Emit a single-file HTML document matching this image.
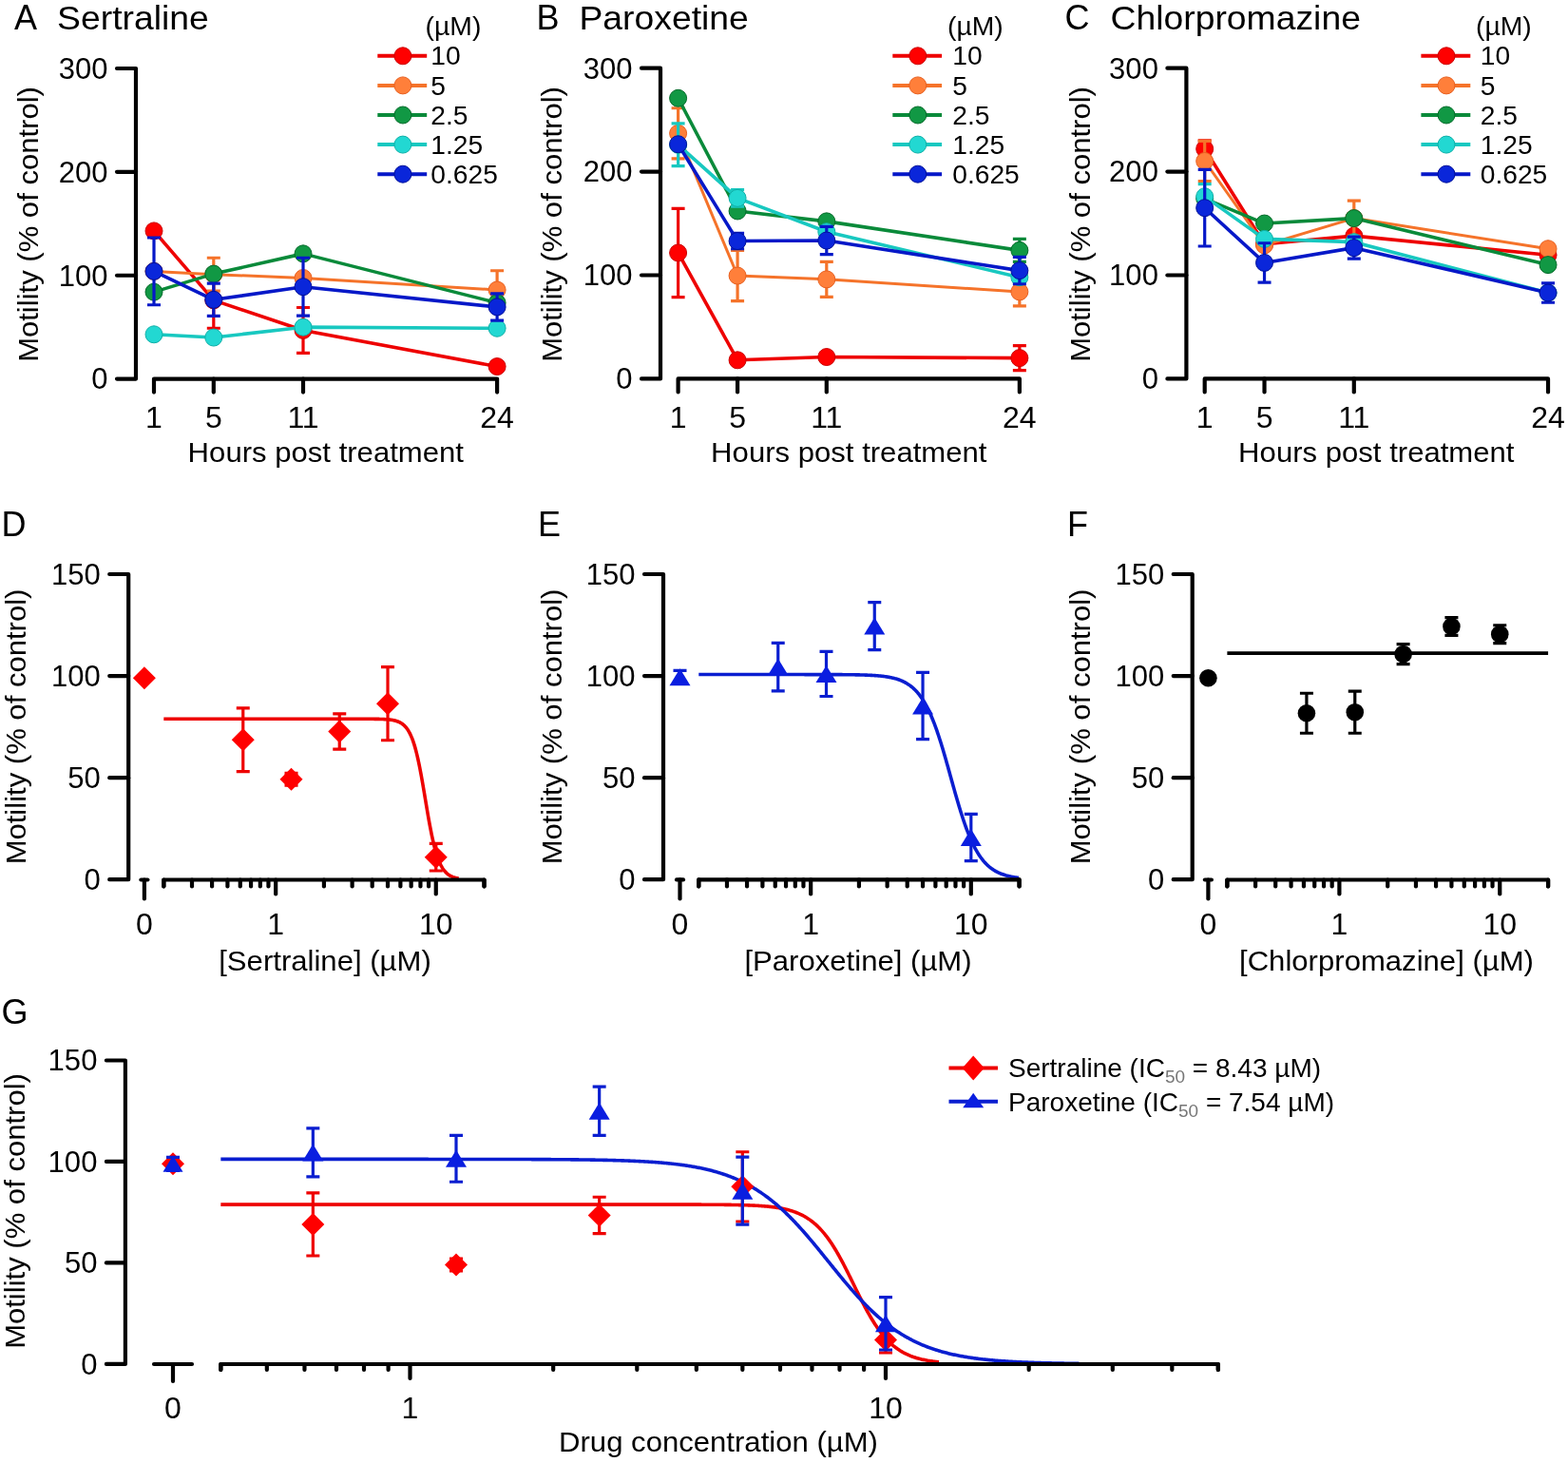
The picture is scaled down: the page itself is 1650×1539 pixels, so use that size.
<!DOCTYPE html>
<html><head><meta charset="utf-8"><title>Motility figure</title>
<style>html,body{margin:0;padding:0;background:#fff;}svg{display:block;}</style>
</head><body>
<svg width="1650" height="1539" viewBox="0 0 1650 1539" font-family="'Liberation Sans', Arial, Helvetica, sans-serif" fill="#000">
<rect width="1650" height="1539" fill="#fff"/>
<text x="15" y="31" font-size="36" text-anchor="start" >A</text>
<text transform="translate(60.1,31) scale(1.037,1)" font-size="36" text-anchor="start" >Sertraline</text>
<path d="M123,72H143V398.6H123" stroke="#000" stroke-width="4.2" fill="none" stroke-linecap="round" stroke-linejoin="round"/>
<line x1="123" y1="289.73" x2="143" y2="289.73" stroke="#000" stroke-width="4.2" stroke-linecap="round"/>
<line x1="123" y1="180.87" x2="143" y2="180.87" stroke="#000" stroke-width="4.2" stroke-linecap="round"/>
<text transform="translate(113.5,409.4) scale(0.97,1)" font-size="32" text-anchor="end" >0</text>
<text transform="translate(113.5,300.53) scale(0.97,1)" font-size="32" text-anchor="end" >100</text>
<text transform="translate(113.5,191.67) scale(0.97,1)" font-size="32" text-anchor="end" >200</text>
<text transform="translate(113.5,82.8) scale(0.97,1)" font-size="32" text-anchor="end" >300</text>
<path d="M162,412.6V398.6H523.1V412.6" stroke="#000" stroke-width="4.2" fill="none" stroke-linecap="round" stroke-linejoin="round"/>
<line x1="224.8" y1="398.6" x2="224.8" y2="412.6" stroke="#000" stroke-width="4.2" stroke-linecap="round"/>
<line x1="319" y1="398.6" x2="319" y2="412.6" stroke="#000" stroke-width="4.2" stroke-linecap="round"/>
<text x="162" y="450" font-size="32" text-anchor="middle" >1</text>
<text x="224.8" y="450" font-size="32" text-anchor="middle" >5</text>
<text x="319" y="450" font-size="32" text-anchor="middle" >11</text>
<text x="523.1" y="450" font-size="32" text-anchor="middle" >24</text>
<text transform="translate(342.8,486.3) scale(1.037,1)" font-size="30" text-anchor="middle" >Hours post treatment</text>
<text transform="translate(39.5,236) rotate(-90) scale(1.035,1)" font-size="30" text-anchor="middle">Motility (% of control)</text>
<text transform="translate(447.6,36.5) scale(1.03,1)" font-size="27.5" text-anchor="start" >(µM)</text>
<line x1="397.3" y1="58.8" x2="449.2" y2="58.8" stroke="#ee0000" stroke-width="4" stroke-linecap="butt"/>
<circle cx="423.9" cy="58.8" r="9" fill="#ff0000" stroke="#cc0000" stroke-width="1.0"/>
<text transform="translate(453.3,68.4) scale(1.045,1)" font-size="27" text-anchor="start" >10</text>
<line x1="397.3" y1="89.9" x2="449.2" y2="89.9" stroke="#f5732a" stroke-width="4" stroke-linecap="butt"/>
<circle cx="423.9" cy="89.9" r="9" fill="#ff7f3a" stroke="#e86020" stroke-width="1.0"/>
<text transform="translate(453.3,99.5) scale(1.045,1)" font-size="27" text-anchor="start" >5</text>
<line x1="397.3" y1="121" x2="449.2" y2="121" stroke="#0a8a3a" stroke-width="4" stroke-linecap="butt"/>
<circle cx="423.9" cy="121" r="9" fill="#119844" stroke="#056b2a" stroke-width="1.0"/>
<text transform="translate(453.3,130.6) scale(1.045,1)" font-size="27" text-anchor="start" >2.5</text>
<line x1="397.3" y1="152.1" x2="449.2" y2="152.1" stroke="#18c8c0" stroke-width="4" stroke-linecap="butt"/>
<circle cx="423.9" cy="152.1" r="9" fill="#22d8d2" stroke="#10b0a8" stroke-width="1.0"/>
<text transform="translate(453.3,161.7) scale(1.045,1)" font-size="27" text-anchor="start" >1.25</text>
<line x1="397.3" y1="183.2" x2="449.2" y2="183.2" stroke="#0618c8" stroke-width="4" stroke-linecap="butt"/>
<circle cx="423.9" cy="183.2" r="9" fill="#0a26da" stroke="#00109a" stroke-width="1.0"/>
<text transform="translate(453.3,192.8) scale(1.045,1)" font-size="27" text-anchor="start" >0.625</text>
<path d="M162,238.57V247.28M155,238.57H169M155,247.28H169" stroke="#ee0000" stroke-width="3.2" fill="none"/>
<path d="M224.8,286.47V345.26M217.8,286.47H231.8M217.8,345.26H231.8" stroke="#ee0000" stroke-width="3.2" fill="none"/>
<path d="M319,323.48V371.38M312,323.48H326M312,371.38H326" stroke="#ee0000" stroke-width="3.2" fill="none"/>
<path d="M523.1,381.18V389.89M516.1,381.18H530.1M516.1,389.89H530.1" stroke="#ee0000" stroke-width="3.2" fill="none"/>
<polyline points="162,242.92 224.8,315.86 319,347.43 523.1,385.54" fill="none" stroke="#ee0000" stroke-width="3.6" stroke-linejoin="round"/>
<circle cx="162" cy="242.92" r="9" fill="#ff0000" stroke="#cc0000" stroke-width="1.0"/>
<circle cx="224.8" cy="315.86" r="9" fill="#ff0000" stroke="#cc0000" stroke-width="1.0"/>
<circle cx="319" cy="347.43" r="9" fill="#ff0000" stroke="#cc0000" stroke-width="1.0"/>
<circle cx="523.1" cy="385.54" r="9" fill="#ff0000" stroke="#cc0000" stroke-width="1.0"/>
<path d="M224.8,271.23V306.06M217.8,271.23H231.8M217.8,306.06H231.8" stroke="#f5732a" stroke-width="3.2" fill="none"/>
<path d="M523.1,284.73V325.22M516.1,284.73H530.1M516.1,325.22H530.1" stroke="#f5732a" stroke-width="3.2" fill="none"/>
<polyline points="162,285.38 224.8,288.64 319,292.46 523.1,304.97" fill="none" stroke="#f5732a" stroke-width="3.0" stroke-linejoin="round"/>
<circle cx="162" cy="285.38" r="9" fill="#ff7f3a" stroke="#e86020" stroke-width="1.0"/>
<circle cx="224.8" cy="288.64" r="9" fill="#ff7f3a" stroke="#e86020" stroke-width="1.0"/>
<circle cx="319" cy="292.46" r="9" fill="#ff7f3a" stroke="#e86020" stroke-width="1.0"/>
<circle cx="523.1" cy="304.97" r="9" fill="#ff7f3a" stroke="#e86020" stroke-width="1.0"/>
<polyline points="162,307.15 224.8,288.1 319,266.87 523.1,318.58" fill="none" stroke="#0a8a3a" stroke-width="3.6" stroke-linejoin="round"/>
<circle cx="162" cy="307.15" r="9" fill="#119844" stroke="#056b2a" stroke-width="1.0"/>
<circle cx="224.8" cy="288.1" r="9" fill="#119844" stroke="#056b2a" stroke-width="1.0"/>
<circle cx="319" cy="266.87" r="9" fill="#119844" stroke="#056b2a" stroke-width="1.0"/>
<circle cx="523.1" cy="318.58" r="9" fill="#119844" stroke="#056b2a" stroke-width="1.0"/>
<polyline points="162,351.79 224.8,355.05 319,344.17 523.1,345.26" fill="none" stroke="#18c8c0" stroke-width="3.6" stroke-linejoin="round"/>
<circle cx="162" cy="351.79" r="9" fill="#22d8d2" stroke="#10b0a8" stroke-width="1.0"/>
<circle cx="224.8" cy="355.05" r="9" fill="#22d8d2" stroke="#10b0a8" stroke-width="1.0"/>
<circle cx="319" cy="344.17" r="9" fill="#22d8d2" stroke="#10b0a8" stroke-width="1.0"/>
<circle cx="523.1" cy="345.26" r="9" fill="#22d8d2" stroke="#10b0a8" stroke-width="1.0"/>
<path d="M162,250V320.76M155,250H169M155,320.76H169" stroke="#0618c8" stroke-width="3.2" fill="none"/>
<path d="M224.8,298.22V332.41M217.8,298.22H231.8M217.8,332.41H231.8" stroke="#0618c8" stroke-width="3.2" fill="none"/>
<path d="M319,271.23V332.19M312,271.23H326M312,332.19H326" stroke="#0618c8" stroke-width="3.2" fill="none"/>
<path d="M523.1,308.79V337.09M516.1,308.79H530.1M516.1,337.09H530.1" stroke="#0618c8" stroke-width="3.2" fill="none"/>
<polyline points="162,285.38 224.8,315.32 319,301.71 523.1,322.94" fill="none" stroke="#0618c8" stroke-width="3.6" stroke-linejoin="round"/>
<circle cx="162" cy="285.38" r="9" fill="#0a26da" stroke="#00109a" stroke-width="1.0"/>
<circle cx="224.8" cy="315.32" r="9" fill="#0a26da" stroke="#00109a" stroke-width="1.0"/>
<circle cx="319" cy="301.71" r="9" fill="#0a26da" stroke="#00109a" stroke-width="1.0"/>
<circle cx="523.1" cy="322.94" r="9" fill="#0a26da" stroke="#00109a" stroke-width="1.0"/>
<text x="564.5" y="31" font-size="36" text-anchor="start" >B</text>
<text transform="translate(609.4,31) scale(1.037,1)" font-size="36" text-anchor="start" >Paroxetine</text>
<path d="M675,71.7H695V398.4H675" stroke="#000" stroke-width="4.2" fill="none" stroke-linecap="round" stroke-linejoin="round"/>
<line x1="675" y1="289.5" x2="695" y2="289.5" stroke="#000" stroke-width="4.2" stroke-linecap="round"/>
<line x1="675" y1="180.6" x2="695" y2="180.6" stroke="#000" stroke-width="4.2" stroke-linecap="round"/>
<text transform="translate(665.5,409.2) scale(0.97,1)" font-size="32" text-anchor="end" >0</text>
<text transform="translate(665.5,300.3) scale(0.97,1)" font-size="32" text-anchor="end" >100</text>
<text transform="translate(665.5,191.4) scale(0.97,1)" font-size="32" text-anchor="end" >200</text>
<text transform="translate(665.5,82.5) scale(0.97,1)" font-size="32" text-anchor="end" >300</text>
<path d="M713.6,412.4V398.4H1072.86V412.4" stroke="#000" stroke-width="4.2" fill="none" stroke-linecap="round" stroke-linejoin="round"/>
<line x1="776.08" y1="398.4" x2="776.08" y2="412.4" stroke="#000" stroke-width="4.2" stroke-linecap="round"/>
<line x1="869.8" y1="398.4" x2="869.8" y2="412.4" stroke="#000" stroke-width="4.2" stroke-linecap="round"/>
<text x="713.6" y="450" font-size="32" text-anchor="middle" >1</text>
<text x="776.08" y="450" font-size="32" text-anchor="middle" >5</text>
<text x="869.8" y="450" font-size="32" text-anchor="middle" >11</text>
<text x="1072.86" y="450" font-size="32" text-anchor="middle" >24</text>
<text transform="translate(893.3,486.3) scale(1.037,1)" font-size="30" text-anchor="middle" >Hours post treatment</text>
<text transform="translate(591,236) rotate(-90) scale(1.035,1)" font-size="30" text-anchor="middle">Motility (% of control)</text>
<text transform="translate(997,36.5) scale(1.03,1)" font-size="27.5" text-anchor="start" >(µM)</text>
<line x1="939.3" y1="58.8" x2="991.1" y2="58.8" stroke="#ee0000" stroke-width="4" stroke-linecap="butt"/>
<circle cx="965.8" cy="58.8" r="9" fill="#ff0000" stroke="#cc0000" stroke-width="1.0"/>
<text transform="translate(1002.2,68.4) scale(1.045,1)" font-size="27" text-anchor="start" >10</text>
<line x1="939.3" y1="89.9" x2="991.1" y2="89.9" stroke="#f5732a" stroke-width="4" stroke-linecap="butt"/>
<circle cx="965.8" cy="89.9" r="9" fill="#ff7f3a" stroke="#e86020" stroke-width="1.0"/>
<text transform="translate(1002.2,99.5) scale(1.045,1)" font-size="27" text-anchor="start" >5</text>
<line x1="939.3" y1="121" x2="991.1" y2="121" stroke="#0a8a3a" stroke-width="4" stroke-linecap="butt"/>
<circle cx="965.8" cy="121" r="9" fill="#119844" stroke="#056b2a" stroke-width="1.0"/>
<text transform="translate(1002.2,130.6) scale(1.045,1)" font-size="27" text-anchor="start" >2.5</text>
<line x1="939.3" y1="152.1" x2="991.1" y2="152.1" stroke="#18c8c0" stroke-width="4" stroke-linecap="butt"/>
<circle cx="965.8" cy="152.1" r="9" fill="#22d8d2" stroke="#10b0a8" stroke-width="1.0"/>
<text transform="translate(1002.2,161.7) scale(1.045,1)" font-size="27" text-anchor="start" >1.25</text>
<line x1="939.3" y1="183.2" x2="991.1" y2="183.2" stroke="#0618c8" stroke-width="4" stroke-linecap="butt"/>
<circle cx="965.8" cy="183.2" r="9" fill="#0a26da" stroke="#00109a" stroke-width="1.0"/>
<text transform="translate(1002.2,192.8) scale(1.045,1)" font-size="27" text-anchor="start" >0.625</text>
<path d="M713.6,219.37V312.59M706.6,219.37H720.6M706.6,312.59H720.6" stroke="#ee0000" stroke-width="3.2" fill="none"/>
<path d="M1072.86,363.55V389.69M1065.86,363.55H1079.86M1065.86,389.69H1079.86" stroke="#ee0000" stroke-width="3.2" fill="none"/>
<polyline points="713.6,265.98 776.08,378.8 869.8,375.53 1072.86,376.62" fill="none" stroke="#ee0000" stroke-width="3.6" stroke-linejoin="round"/>
<circle cx="713.6" cy="265.98" r="9" fill="#ff0000" stroke="#cc0000" stroke-width="1.0"/>
<circle cx="776.08" cy="378.8" r="9" fill="#ff0000" stroke="#cc0000" stroke-width="1.0"/>
<circle cx="869.8" cy="375.53" r="9" fill="#ff0000" stroke="#cc0000" stroke-width="1.0"/>
<circle cx="1072.86" cy="376.62" r="9" fill="#ff0000" stroke="#cc0000" stroke-width="1.0"/>
<path d="M713.6,113.74V166.88M706.6,113.74H720.6M706.6,166.88H720.6" stroke="#f5732a" stroke-width="3.2" fill="none"/>
<path d="M776.08,263.36V316.72M769.08,263.36H783.08M769.08,316.72H783.08" stroke="#f5732a" stroke-width="3.2" fill="none"/>
<path d="M869.8,275.34V312.37M862.8,275.34H876.8M862.8,312.37H876.8" stroke="#f5732a" stroke-width="3.2" fill="none"/>
<path d="M1072.86,292V321.84M1065.86,292H1079.86M1065.86,321.84H1079.86" stroke="#f5732a" stroke-width="3.2" fill="none"/>
<polyline points="713.6,140.31 776.08,290.04 869.8,293.86 1072.86,306.92" fill="none" stroke="#f5732a" stroke-width="3.0" stroke-linejoin="round"/>
<circle cx="713.6" cy="140.31" r="9" fill="#ff7f3a" stroke="#e86020" stroke-width="1.0"/>
<circle cx="776.08" cy="290.04" r="9" fill="#ff7f3a" stroke="#e86020" stroke-width="1.0"/>
<circle cx="869.8" cy="293.86" r="9" fill="#ff7f3a" stroke="#e86020" stroke-width="1.0"/>
<circle cx="1072.86" cy="306.92" r="9" fill="#ff7f3a" stroke="#e86020" stroke-width="1.0"/>
<path d="M1072.86,251.38V275.34M1065.86,251.38H1079.86M1065.86,275.34H1079.86" stroke="#0a8a3a" stroke-width="3.2" fill="none"/>
<polyline points="713.6,103.28 776.08,221.98 869.8,232.87 1072.86,263.36" fill="none" stroke="#0a8a3a" stroke-width="3.6" stroke-linejoin="round"/>
<circle cx="713.6" cy="103.28" r="9" fill="#119844" stroke="#056b2a" stroke-width="1.0"/>
<circle cx="776.08" cy="221.98" r="9" fill="#119844" stroke="#056b2a" stroke-width="1.0"/>
<circle cx="869.8" cy="232.87" r="9" fill="#119844" stroke="#056b2a" stroke-width="1.0"/>
<circle cx="1072.86" cy="263.36" r="9" fill="#119844" stroke="#056b2a" stroke-width="1.0"/>
<path d="M713.6,129.96V174.61M706.6,129.96H720.6M706.6,174.61H720.6" stroke="#18c8c0" stroke-width="3.2" fill="none"/>
<path d="M776.08,199.66V217.08M769.08,199.66H783.08M769.08,217.08H783.08" stroke="#18c8c0" stroke-width="3.2" fill="none"/>
<polyline points="713.6,152.29 776.08,208.37 869.8,243.76 1072.86,291.68" fill="none" stroke="#18c8c0" stroke-width="3.6" stroke-linejoin="round"/>
<circle cx="713.6" cy="152.29" r="9" fill="#22d8d2" stroke="#10b0a8" stroke-width="1.0"/>
<circle cx="776.08" cy="208.37" r="9" fill="#22d8d2" stroke="#10b0a8" stroke-width="1.0"/>
<circle cx="869.8" cy="243.76" r="9" fill="#22d8d2" stroke="#10b0a8" stroke-width="1.0"/>
<circle cx="1072.86" cy="291.68" r="9" fill="#22d8d2" stroke="#10b0a8" stroke-width="1.0"/>
<path d="M776.08,245.4V261.73M769.08,245.4H783.08M769.08,261.73H783.08" stroke="#0618c8" stroke-width="3.2" fill="none"/>
<path d="M869.8,238.32V267.72M862.8,238.32H876.8M862.8,267.72H876.8" stroke="#0618c8" stroke-width="3.2" fill="none"/>
<path d="M1072.86,270.44V298.76M1065.86,270.44H1079.86M1065.86,298.76H1079.86" stroke="#0618c8" stroke-width="3.2" fill="none"/>
<polyline points="713.6,151.74 776.08,253.56 869.8,253.02 1072.86,284.6" fill="none" stroke="#0618c8" stroke-width="3.6" stroke-linejoin="round"/>
<circle cx="713.6" cy="151.74" r="9" fill="#0a26da" stroke="#00109a" stroke-width="1.0"/>
<circle cx="776.08" cy="253.56" r="9" fill="#0a26da" stroke="#00109a" stroke-width="1.0"/>
<circle cx="869.8" cy="253.02" r="9" fill="#0a26da" stroke="#00109a" stroke-width="1.0"/>
<circle cx="1072.86" cy="284.6" r="9" fill="#0a26da" stroke="#00109a" stroke-width="1.0"/>
<text x="1120.5" y="31" font-size="36" text-anchor="start" >C</text>
<text transform="translate(1168.5,31) scale(1.037,1)" font-size="36" text-anchor="start" >Chlorpromazine</text>
<path d="M1228.4,71.7H1248.4V398.4H1228.4" stroke="#000" stroke-width="4.2" fill="none" stroke-linecap="round" stroke-linejoin="round"/>
<line x1="1228.4" y1="289.5" x2="1248.4" y2="289.5" stroke="#000" stroke-width="4.2" stroke-linecap="round"/>
<line x1="1228.4" y1="180.6" x2="1248.4" y2="180.6" stroke="#000" stroke-width="4.2" stroke-linecap="round"/>
<text transform="translate(1218.9,409.2) scale(0.97,1)" font-size="32" text-anchor="end" >0</text>
<text transform="translate(1218.9,300.3) scale(0.97,1)" font-size="32" text-anchor="end" >100</text>
<text transform="translate(1218.9,191.4) scale(0.97,1)" font-size="32" text-anchor="end" >200</text>
<text transform="translate(1218.9,82.5) scale(0.97,1)" font-size="32" text-anchor="end" >300</text>
<path d="M1267.7,412.4V398.4H1629.03V412.4" stroke="#000" stroke-width="4.2" fill="none" stroke-linecap="round" stroke-linejoin="round"/>
<line x1="1330.54" y1="398.4" x2="1330.54" y2="412.4" stroke="#000" stroke-width="4.2" stroke-linecap="round"/>
<line x1="1424.8" y1="398.4" x2="1424.8" y2="412.4" stroke="#000" stroke-width="4.2" stroke-linecap="round"/>
<text x="1267.7" y="450" font-size="32" text-anchor="middle" >1</text>
<text x="1330.54" y="450" font-size="32" text-anchor="middle" >5</text>
<text x="1424.8" y="450" font-size="32" text-anchor="middle" >11</text>
<text x="1629.03" y="450" font-size="32" text-anchor="middle" >24</text>
<text transform="translate(1448.3,486.3) scale(1.037,1)" font-size="30" text-anchor="middle" >Hours post treatment</text>
<text transform="translate(1147,236) rotate(-90) scale(1.035,1)" font-size="30" text-anchor="middle">Motility (% of control)</text>
<text transform="translate(1553,36.5) scale(1.03,1)" font-size="27.5" text-anchor="start" >(µM)</text>
<line x1="1495.4" y1="58.8" x2="1547.3" y2="58.8" stroke="#ee0000" stroke-width="4" stroke-linecap="butt"/>
<circle cx="1522" cy="58.8" r="9" fill="#ff0000" stroke="#cc0000" stroke-width="1.0"/>
<text transform="translate(1557.7,68.4) scale(1.045,1)" font-size="27" text-anchor="start" >10</text>
<line x1="1495.4" y1="89.9" x2="1547.3" y2="89.9" stroke="#f5732a" stroke-width="4" stroke-linecap="butt"/>
<circle cx="1522" cy="89.9" r="9" fill="#ff7f3a" stroke="#e86020" stroke-width="1.0"/>
<text transform="translate(1557.7,99.5) scale(1.045,1)" font-size="27" text-anchor="start" >5</text>
<line x1="1495.4" y1="121" x2="1547.3" y2="121" stroke="#0a8a3a" stroke-width="4" stroke-linecap="butt"/>
<circle cx="1522" cy="121" r="9" fill="#119844" stroke="#056b2a" stroke-width="1.0"/>
<text transform="translate(1557.7,130.6) scale(1.045,1)" font-size="27" text-anchor="start" >2.5</text>
<line x1="1495.4" y1="152.1" x2="1547.3" y2="152.1" stroke="#18c8c0" stroke-width="4" stroke-linecap="butt"/>
<circle cx="1522" cy="152.1" r="9" fill="#22d8d2" stroke="#10b0a8" stroke-width="1.0"/>
<text transform="translate(1557.7,161.7) scale(1.045,1)" font-size="27" text-anchor="start" >1.25</text>
<line x1="1495.4" y1="183.2" x2="1547.3" y2="183.2" stroke="#0618c8" stroke-width="4" stroke-linecap="butt"/>
<circle cx="1522" cy="183.2" r="9" fill="#0a26da" stroke="#00109a" stroke-width="1.0"/>
<text transform="translate(1557.7,192.8) scale(1.045,1)" font-size="27" text-anchor="start" >0.625</text>
<path d="M1267.7,147.93V165.35M1260.7,147.93H1274.7M1260.7,165.35H1274.7" stroke="#ee0000" stroke-width="3.2" fill="none"/>
<polyline points="1267.7,156.64 1330.54,256.83 1424.8,248.12 1629.03,268.26" fill="none" stroke="#ee0000" stroke-width="3.6" stroke-linejoin="round"/>
<circle cx="1267.7" cy="156.64" r="9" fill="#ff0000" stroke="#cc0000" stroke-width="1.0"/>
<circle cx="1330.54" cy="256.83" r="9" fill="#ff0000" stroke="#cc0000" stroke-width="1.0"/>
<circle cx="1424.8" cy="248.12" r="9" fill="#ff0000" stroke="#cc0000" stroke-width="1.0"/>
<circle cx="1629.03" cy="268.26" r="9" fill="#ff0000" stroke="#cc0000" stroke-width="1.0"/>
<path d="M1267.7,148.47V190.51M1260.7,148.47H1274.7M1260.7,190.51H1274.7" stroke="#f5732a" stroke-width="3.2" fill="none"/>
<path d="M1424.8,211.09V248.12M1417.8,211.09H1431.8M1417.8,248.12H1431.8" stroke="#f5732a" stroke-width="3.2" fill="none"/>
<polyline points="1267.7,169.49 1330.54,257.92 1424.8,229.6 1629.03,261.73" fill="none" stroke="#f5732a" stroke-width="3.0" stroke-linejoin="round"/>
<circle cx="1267.7" cy="169.49" r="9" fill="#ff7f3a" stroke="#e86020" stroke-width="1.0"/>
<circle cx="1330.54" cy="257.92" r="9" fill="#ff7f3a" stroke="#e86020" stroke-width="1.0"/>
<circle cx="1424.8" cy="229.6" r="9" fill="#ff7f3a" stroke="#e86020" stroke-width="1.0"/>
<circle cx="1629.03" cy="261.73" r="9" fill="#ff7f3a" stroke="#e86020" stroke-width="1.0"/>
<polyline points="1267.7,208.91 1330.54,235.05 1424.8,229.6 1629.03,278.61" fill="none" stroke="#0a8a3a" stroke-width="3.6" stroke-linejoin="round"/>
<circle cx="1267.7" cy="208.91" r="9" fill="#119844" stroke="#056b2a" stroke-width="1.0"/>
<circle cx="1330.54" cy="235.05" r="9" fill="#119844" stroke="#056b2a" stroke-width="1.0"/>
<circle cx="1424.8" cy="229.6" r="9" fill="#119844" stroke="#056b2a" stroke-width="1.0"/>
<circle cx="1629.03" cy="278.61" r="9" fill="#119844" stroke="#056b2a" stroke-width="1.0"/>
<path d="M1267.7,193.67V219.8M1260.7,193.67H1274.7M1260.7,219.8H1274.7" stroke="#18c8c0" stroke-width="3.2" fill="none"/>
<polyline points="1267.7,206.74 1330.54,251.38 1424.8,254.65 1629.03,308.01" fill="none" stroke="#18c8c0" stroke-width="3.6" stroke-linejoin="round"/>
<circle cx="1267.7" cy="206.74" r="9" fill="#22d8d2" stroke="#10b0a8" stroke-width="1.0"/>
<circle cx="1330.54" cy="251.38" r="9" fill="#22d8d2" stroke="#10b0a8" stroke-width="1.0"/>
<circle cx="1424.8" cy="254.65" r="9" fill="#22d8d2" stroke="#10b0a8" stroke-width="1.0"/>
<circle cx="1629.03" cy="308.01" r="9" fill="#22d8d2" stroke="#10b0a8" stroke-width="1.0"/>
<path d="M1267.7,178.42V259.01M1260.7,178.42H1274.7M1260.7,259.01H1274.7" stroke="#0618c8" stroke-width="3.2" fill="none"/>
<path d="M1330.54,255.74V297.12M1323.54,255.74H1337.54M1323.54,297.12H1337.54" stroke="#0618c8" stroke-width="3.2" fill="none"/>
<path d="M1424.8,249.21V272.08M1417.8,249.21H1431.8M1417.8,272.08H1431.8" stroke="#0618c8" stroke-width="3.2" fill="none"/>
<path d="M1629.03,297.78V318.25M1622.03,297.78H1636.03M1622.03,318.25H1636.03" stroke="#0618c8" stroke-width="3.2" fill="none"/>
<polyline points="1267.7,218.71 1330.54,276.43 1424.8,260.64 1629.03,308.01" fill="none" stroke="#0618c8" stroke-width="3.6" stroke-linejoin="round"/>
<circle cx="1267.7" cy="218.71" r="9" fill="#0a26da" stroke="#00109a" stroke-width="1.0"/>
<circle cx="1330.54" cy="276.43" r="9" fill="#0a26da" stroke="#00109a" stroke-width="1.0"/>
<circle cx="1424.8" cy="260.64" r="9" fill="#0a26da" stroke="#00109a" stroke-width="1.0"/>
<circle cx="1629.03" cy="308.01" r="9" fill="#0a26da" stroke="#00109a" stroke-width="1.0"/>
<text x="1.5" y="563.5" font-size="36" text-anchor="start" >D</text>
<path d="M115.2,604H135.2V925.2H115.2" stroke="#000" stroke-width="4.2" fill="none" stroke-linecap="round" stroke-linejoin="round"/>
<line x1="115.2" y1="818.13" x2="135.2" y2="818.13" stroke="#000" stroke-width="4.2" stroke-linecap="round"/>
<line x1="115.2" y1="711.07" x2="135.2" y2="711.07" stroke="#000" stroke-width="4.2" stroke-linecap="round"/>
<text transform="translate(105.7,936) scale(0.97,1)" font-size="32" text-anchor="end" >0</text>
<text transform="translate(105.7,828.93) scale(0.97,1)" font-size="32" text-anchor="end" >50</text>
<text transform="translate(105.7,721.87) scale(0.97,1)" font-size="32" text-anchor="end" >100</text>
<text transform="translate(105.7,614.8) scale(0.97,1)" font-size="32" text-anchor="end" >150</text>
<polyline points="172.32,756.25 173.05,756.25 173.78,756.25 174.51,756.25 175.24,756.25 175.97,756.25 176.7,756.25 177.42,756.25 178.15,756.25 178.88,756.25 179.61,756.25 180.34,756.25 181.07,756.25 181.8,756.25 182.52,756.25 183.25,756.25 183.98,756.25 184.71,756.25 185.44,756.25 186.17,756.25 186.9,756.25 187.62,756.25 188.35,756.25 189.08,756.25 189.81,756.25 190.54,756.25 191.27,756.25 192,756.25 192.72,756.25 193.45,756.25 194.18,756.25 194.91,756.25 195.64,756.25 196.37,756.25 197.1,756.25 197.82,756.25 198.55,756.25 199.28,756.25 200.01,756.25 200.74,756.25 201.47,756.25 202.2,756.25 202.92,756.25 203.65,756.25 204.38,756.25 205.11,756.25 205.84,756.25 206.57,756.25 207.3,756.25 208.02,756.25 208.75,756.25 209.48,756.25 210.21,756.25 210.94,756.25 211.67,756.25 212.4,756.25 213.12,756.25 213.85,756.25 214.58,756.25 215.31,756.25 216.04,756.25 216.77,756.25 217.5,756.25 218.22,756.25 218.95,756.25 219.68,756.25 220.41,756.25 221.14,756.25 221.87,756.25 222.6,756.25 223.32,756.25 224.05,756.25 224.78,756.25 225.51,756.25 226.24,756.25 226.97,756.25 227.7,756.25 228.42,756.25 229.15,756.25 229.88,756.25 230.61,756.25 231.34,756.25 232.07,756.25 232.8,756.25 233.52,756.25 234.25,756.25 234.98,756.25 235.71,756.25 236.44,756.25 237.17,756.25 237.9,756.25 238.62,756.25 239.35,756.25 240.08,756.25 240.81,756.25 241.54,756.25 242.27,756.25 243,756.25 243.72,756.25 244.45,756.25 245.18,756.25 245.91,756.25 246.64,756.25 247.37,756.25 248.1,756.25 248.82,756.25 249.55,756.25 250.28,756.25 251.01,756.25 251.74,756.25 252.47,756.25 253.2,756.25 253.93,756.25 254.65,756.25 255.38,756.25 256.11,756.25 256.84,756.25 257.57,756.25 258.3,756.25 259.03,756.25 259.75,756.25 260.48,756.25 261.21,756.25 261.94,756.25 262.67,756.25 263.4,756.25 264.13,756.25 264.85,756.25 265.58,756.25 266.31,756.25 267.04,756.25 267.77,756.25 268.5,756.25 269.23,756.25 269.95,756.25 270.68,756.25 271.41,756.25 272.14,756.25 272.87,756.25 273.6,756.25 274.33,756.25 275.05,756.25 275.78,756.25 276.51,756.25 277.24,756.25 277.97,756.25 278.7,756.25 279.43,756.25 280.15,756.25 280.88,756.25 281.61,756.25 282.34,756.25 283.07,756.25 283.8,756.25 284.53,756.25 285.25,756.25 285.98,756.25 286.71,756.25 287.44,756.25 288.17,756.25 288.9,756.25 289.63,756.25 290.35,756.25 291.08,756.25 291.81,756.25 292.54,756.25 293.27,756.25 294,756.25 294.73,756.25 295.45,756.25 296.18,756.25 296.91,756.25 297.64,756.25 298.37,756.25 299.1,756.25 299.83,756.25 300.55,756.25 301.28,756.25 302.01,756.25 302.74,756.25 303.47,756.25 304.2,756.25 304.93,756.25 305.65,756.25 306.38,756.25 307.11,756.25 307.84,756.25 308.57,756.25 309.3,756.25 310.03,756.25 310.75,756.25 311.48,756.25 312.21,756.25 312.94,756.25 313.67,756.25 314.4,756.25 315.13,756.25 315.85,756.25 316.58,756.25 317.31,756.25 318.04,756.25 318.77,756.25 319.5,756.25 320.23,756.25 320.95,756.25 321.68,756.25 322.41,756.25 323.14,756.25 323.87,756.25 324.6,756.25 325.33,756.25 326.05,756.25 326.78,756.25 327.51,756.25 328.24,756.25 328.97,756.25 329.7,756.25 330.43,756.25 331.15,756.25 331.88,756.25 332.61,756.25 333.34,756.25 334.07,756.25 334.8,756.25 335.53,756.25 336.25,756.25 336.98,756.25 337.71,756.25 338.44,756.25 339.17,756.25 339.9,756.25 340.63,756.25 341.36,756.25 342.08,756.25 342.81,756.25 343.54,756.25 344.27,756.25 345,756.25 345.73,756.25 346.46,756.25 347.18,756.25 347.91,756.25 348.64,756.25 349.37,756.25 350.1,756.25 350.83,756.25 351.56,756.25 352.28,756.25 353.01,756.25 353.74,756.25 354.47,756.25 355.2,756.25 355.93,756.25 356.66,756.25 357.38,756.25 358.11,756.25 358.84,756.25 359.57,756.25 360.3,756.25 361.03,756.25 361.76,756.25 362.48,756.25 363.21,756.25 363.94,756.25 364.67,756.25 365.4,756.25 366.13,756.25 366.86,756.25 367.58,756.25 368.31,756.25 369.04,756.25 369.77,756.25 370.5,756.25 371.23,756.25 371.96,756.25 372.68,756.25 373.41,756.25 374.14,756.25 374.87,756.25 375.6,756.25 376.33,756.26 377.06,756.26 377.78,756.26 378.51,756.26 379.24,756.26 379.97,756.26 380.7,756.26 381.43,756.26 382.16,756.26 382.88,756.27 383.61,756.27 384.34,756.27 385.07,756.27 385.8,756.27 386.53,756.28 387.26,756.28 387.98,756.28 388.71,756.29 389.44,756.29 390.17,756.3 390.9,756.3 391.63,756.31 392.36,756.32 393.08,756.32 393.81,756.33 394.54,756.34 395.27,756.35 396,756.36 396.73,756.37 397.46,756.39 398.18,756.4 398.91,756.42 399.64,756.44 400.37,756.46 401.1,756.48 401.83,756.5 402.56,756.53 403.28,756.56 404.01,756.6 404.74,756.63 405.47,756.68 406.2,756.72 406.93,756.77 407.66,756.83 408.38,756.89 409.11,756.96 409.84,757.04 410.57,757.13 411.3,757.22 412.03,757.33 412.76,757.45 413.48,757.58 414.21,757.72 414.94,757.88 415.67,758.05 416.4,758.25 417.13,758.46 417.86,758.7 418.58,758.96 419.31,759.25 420.04,759.57 420.77,759.93 421.5,760.32 422.23,760.75 422.96,761.23 423.69,761.76 424.41,762.33 425.14,762.97 425.87,763.67 426.6,764.44 427.33,765.29 428.06,766.22 428.79,767.23 429.51,768.34 430.24,769.56 430.97,770.88 431.7,772.33 432.43,773.9 433.16,775.6 433.89,777.45 434.61,779.44 435.34,781.59 436.07,783.9 436.8,786.38 437.53,789.02 438.26,791.84 438.99,794.84 439.71,798.01 440.44,801.34 441.17,804.85 441.9,808.51 442.63,812.31 443.36,816.25 444.09,820.32 444.81,824.48 445.54,828.73 446.27,833.04 447,837.39 447.73,841.76 448.46,846.12 449.19,850.46 449.91,854.74 450.64,858.95 451.37,863.07 452.1,867.08 452.83,870.95 453.56,874.69 454.29,878.28 455.01,881.7 455.74,884.96 456.47,888.05 457.2,890.96 457.93,893.7 458.66,896.27 459.39,898.66 460.11,900.9 460.84,902.97 461.57,904.89 462.3,906.67 463.03,908.31 463.76,909.82 464.49,911.21 465.21,912.48 465.94,913.64 466.67,914.71 467.4,915.68 468.13,916.57 468.86,917.38 469.59,918.12 470.31,918.79 471.04,919.4 471.77,919.95 472.5,920.45 473.23,920.9 473.96,921.32 474.69,921.69 475.41,922.03 476.14,922.34 476.87,922.61 477.6,922.86 478.33,923.09 479.06,923.3 479.79,923.48 480.51,923.65 481.24,923.8 481.97,923.94 482.7,924.06" fill="none" stroke="#ee0000" stroke-width="3.6" stroke-linejoin="round"/>
<line x1="148.4" y1="925.5" x2="155.4" y2="925.5" stroke="#000" stroke-width="4.2" stroke-linecap="round"/>
<line x1="151.9" y1="925.5" x2="151.9" y2="945.5" stroke="#000" stroke-width="4.2" stroke-linecap="round"/>
<path d="M172.32,932.5V925.5H509.52V932.5" stroke="#000" stroke-width="4.2" fill="none" stroke-linecap="round" stroke-linejoin="round"/>
<line x1="172.32" y1="925.5" x2="172.32" y2="932.5" stroke="#000" stroke-width="4.2" stroke-linecap="round"/>
<line x1="202.01" y1="925.5" x2="202.01" y2="932.5" stroke="#000" stroke-width="4.2" stroke-linecap="round"/>
<line x1="223.08" y1="925.5" x2="223.08" y2="932.5" stroke="#000" stroke-width="4.2" stroke-linecap="round"/>
<line x1="239.42" y1="925.5" x2="239.42" y2="932.5" stroke="#000" stroke-width="4.2" stroke-linecap="round"/>
<line x1="252.77" y1="925.5" x2="252.77" y2="932.5" stroke="#000" stroke-width="4.2" stroke-linecap="round"/>
<line x1="264.05" y1="925.5" x2="264.05" y2="932.5" stroke="#000" stroke-width="4.2" stroke-linecap="round"/>
<line x1="273.83" y1="925.5" x2="273.83" y2="932.5" stroke="#000" stroke-width="4.2" stroke-linecap="round"/>
<line x1="282.46" y1="925.5" x2="282.46" y2="932.5" stroke="#000" stroke-width="4.2" stroke-linecap="round"/>
<line x1="290.17" y1="925.5" x2="290.17" y2="940.5" stroke="#000" stroke-width="4.2" stroke-linecap="round"/>
<line x1="340.92" y1="925.5" x2="340.92" y2="932.5" stroke="#000" stroke-width="4.2" stroke-linecap="round"/>
<line x1="370.61" y1="925.5" x2="370.61" y2="932.5" stroke="#000" stroke-width="4.2" stroke-linecap="round"/>
<line x1="391.68" y1="925.5" x2="391.68" y2="932.5" stroke="#000" stroke-width="4.2" stroke-linecap="round"/>
<line x1="408.02" y1="925.5" x2="408.02" y2="932.5" stroke="#000" stroke-width="4.2" stroke-linecap="round"/>
<line x1="421.37" y1="925.5" x2="421.37" y2="932.5" stroke="#000" stroke-width="4.2" stroke-linecap="round"/>
<line x1="432.65" y1="925.5" x2="432.65" y2="932.5" stroke="#000" stroke-width="4.2" stroke-linecap="round"/>
<line x1="442.43" y1="925.5" x2="442.43" y2="932.5" stroke="#000" stroke-width="4.2" stroke-linecap="round"/>
<line x1="451.06" y1="925.5" x2="451.06" y2="932.5" stroke="#000" stroke-width="4.2" stroke-linecap="round"/>
<line x1="458.77" y1="925.5" x2="458.77" y2="940.5" stroke="#000" stroke-width="4.2" stroke-linecap="round"/>
<line x1="509.52" y1="925.5" x2="509.52" y2="932.5" stroke="#000" stroke-width="4.2" stroke-linecap="round"/>
<text x="151.9" y="983" font-size="32" text-anchor="middle" >0</text>
<text x="290.17" y="983" font-size="32" text-anchor="middle" >1</text>
<text x="458.77" y="983" font-size="32" text-anchor="middle" >10</text>
<text transform="translate(342,1021) scale(1.037,1)" font-size="30" text-anchor="middle" >[Sertraline] (µM)</text>
<text transform="translate(27,764.5) rotate(-90) scale(1.035,1)" font-size="30" text-anchor="middle">Motility (% of control)</text>
<path d="M151.9,701.21L163.9,713.21L151.9,725.21L139.9,713.21Z" fill="#ff0000"/>
<path d="M255.76,744.9V811.71M248.76,744.9H262.76M248.76,811.71H262.76" stroke="#ee0000" stroke-width="3.2" fill="none"/>
<path d="M255.76,766.3L267.76,778.3L255.76,790.3L243.76,778.3Z" fill="#ff0000"/>
<path d="M306.51,813.42V826.27M299.51,813.42H313.51M299.51,826.27H313.51" stroke="#ee0000" stroke-width="3.2" fill="none"/>
<path d="M306.51,807.85L318.51,819.85L306.51,831.85L294.51,819.85Z" fill="#ff0000"/>
<path d="M357.26,750.9V788.15M350.26,750.9H364.26M350.26,788.15H364.26" stroke="#ee0000" stroke-width="3.2" fill="none"/>
<path d="M357.26,757.53L369.26,769.53L357.26,781.53L345.26,769.53Z" fill="#ff0000"/>
<path d="M408.02,701.64V778.73M401.02,701.64H415.02M401.02,778.73H415.02" stroke="#ee0000" stroke-width="3.2" fill="none"/>
<path d="M408.02,728.19L420.02,740.19L408.02,752.19L396.02,740.19Z" fill="#ff0000"/>
<path d="M458.77,887.3V915.99M451.77,887.3H465.77M451.77,915.99H465.77" stroke="#ee0000" stroke-width="3.2" fill="none"/>
<path d="M458.77,889.65L470.77,901.65L458.77,913.65L446.77,901.65Z" fill="#ff0000"/>
<text x="566" y="563.5" font-size="36" text-anchor="start" >E</text>
<path d="M678,604H698V925.2H678" stroke="#000" stroke-width="4.2" fill="none" stroke-linecap="round" stroke-linejoin="round"/>
<line x1="678" y1="818.13" x2="698" y2="818.13" stroke="#000" stroke-width="4.2" stroke-linecap="round"/>
<line x1="678" y1="711.07" x2="698" y2="711.07" stroke="#000" stroke-width="4.2" stroke-linecap="round"/>
<text transform="translate(668.5,936) scale(0.97,1)" font-size="32" text-anchor="end" >0</text>
<text transform="translate(668.5,828.93) scale(0.97,1)" font-size="32" text-anchor="end" >50</text>
<text transform="translate(668.5,721.87) scale(0.97,1)" font-size="32" text-anchor="end" >100</text>
<text transform="translate(668.5,614.8) scale(0.97,1)" font-size="32" text-anchor="end" >150</text>
<polyline points="735.28,709.57 736.01,709.57 736.74,709.57 737.47,709.57 738.19,709.57 738.92,709.57 739.65,709.57 740.38,709.57 741.11,709.57 741.84,709.57 742.57,709.57 743.3,709.57 744.02,709.57 744.75,709.57 745.48,709.57 746.21,709.57 746.94,709.57 747.67,709.57 748.4,709.57 749.13,709.57 749.85,709.57 750.58,709.57 751.31,709.57 752.04,709.57 752.77,709.57 753.5,709.57 754.23,709.57 754.96,709.57 755.69,709.57 756.41,709.57 757.14,709.57 757.87,709.57 758.6,709.57 759.33,709.57 760.06,709.57 760.79,709.57 761.52,709.57 762.24,709.57 762.97,709.57 763.7,709.57 764.43,709.57 765.16,709.57 765.89,709.57 766.62,709.57 767.35,709.57 768.07,709.57 768.8,709.57 769.53,709.57 770.26,709.57 770.99,709.57 771.72,709.57 772.45,709.57 773.18,709.57 773.91,709.57 774.63,709.57 775.36,709.57 776.09,709.57 776.82,709.57 777.55,709.57 778.28,709.57 779.01,709.57 779.74,709.57 780.46,709.57 781.19,709.57 781.92,709.57 782.65,709.57 783.38,709.57 784.11,709.57 784.84,709.57 785.57,709.57 786.29,709.57 787.02,709.57 787.75,709.57 788.48,709.57 789.21,709.57 789.94,709.57 790.67,709.57 791.4,709.57 792.13,709.57 792.85,709.57 793.58,709.57 794.31,709.57 795.04,709.57 795.77,709.57 796.5,709.57 797.23,709.57 797.96,709.57 798.68,709.57 799.41,709.57 800.14,709.57 800.87,709.57 801.6,709.57 802.33,709.57 803.06,709.57 803.79,709.57 804.51,709.57 805.24,709.57 805.97,709.57 806.7,709.57 807.43,709.57 808.16,709.57 808.89,709.57 809.62,709.57 810.35,709.57 811.07,709.57 811.8,709.57 812.53,709.57 813.26,709.57 813.99,709.57 814.72,709.57 815.45,709.57 816.18,709.57 816.9,709.57 817.63,709.57 818.36,709.57 819.09,709.57 819.82,709.57 820.55,709.57 821.28,709.57 822.01,709.57 822.73,709.57 823.46,709.57 824.19,709.57 824.92,709.57 825.65,709.57 826.38,709.57 827.11,709.57 827.84,709.57 828.57,709.57 829.29,709.57 830.02,709.57 830.75,709.57 831.48,709.57 832.21,709.57 832.94,709.57 833.67,709.57 834.4,709.57 835.12,709.57 835.85,709.57 836.58,709.57 837.31,709.57 838.04,709.57 838.77,709.57 839.5,709.57 840.23,709.57 840.95,709.57 841.68,709.57 842.41,709.57 843.14,709.57 843.87,709.57 844.6,709.57 845.33,709.57 846.06,709.57 846.79,709.58 847.51,709.58 848.24,709.58 848.97,709.58 849.7,709.58 850.43,709.58 851.16,709.58 851.89,709.58 852.62,709.58 853.34,709.58 854.07,709.58 854.8,709.58 855.53,709.58 856.26,709.58 856.99,709.58 857.72,709.58 858.45,709.58 859.17,709.58 859.9,709.59 860.63,709.59 861.36,709.59 862.09,709.59 862.82,709.59 863.55,709.59 864.28,709.59 865.01,709.59 865.73,709.59 866.46,709.6 867.19,709.6 867.92,709.6 868.65,709.6 869.38,709.6 870.11,709.6 870.84,709.6 871.56,709.61 872.29,709.61 873.02,709.61 873.75,709.61 874.48,709.61 875.21,709.62 875.94,709.62 876.67,709.62 877.39,709.63 878.12,709.63 878.85,709.63 879.58,709.63 880.31,709.64 881.04,709.64 881.77,709.64 882.5,709.65 883.23,709.65 883.95,709.66 884.68,709.66 885.41,709.67 886.14,709.67 886.87,709.68 887.6,709.68 888.33,709.69 889.06,709.69 889.78,709.7 890.51,709.71 891.24,709.71 891.97,709.72 892.7,709.73 893.43,709.74 894.16,709.74 894.89,709.75 895.61,709.76 896.34,709.77 897.07,709.78 897.8,709.79 898.53,709.8 899.26,709.82 899.99,709.83 900.72,709.84 901.45,709.85 902.17,709.87 902.9,709.88 903.63,709.9 904.36,709.92 905.09,709.93 905.82,709.95 906.55,709.97 907.28,709.99 908,710.01 908.73,710.03 909.46,710.06 910.19,710.08 910.92,710.11 911.65,710.13 912.38,710.16 913.11,710.19 913.83,710.22 914.56,710.25 915.29,710.29 916.02,710.33 916.75,710.36 917.48,710.4 918.21,710.44 918.94,710.49 919.67,710.53 920.39,710.58 921.12,710.63 921.85,710.68 922.58,710.74 923.31,710.8 924.04,710.86 924.77,710.92 925.5,710.99 926.22,711.06 926.95,711.14 927.68,711.21 928.41,711.29 929.14,711.38 929.87,711.47 930.6,711.56 931.33,711.66 932.05,711.77 932.78,711.88 933.51,711.99 934.24,712.11 934.97,712.23 935.7,712.37 936.43,712.5 937.16,712.65 937.89,712.8 938.61,712.96 939.34,713.13 940.07,713.3 940.8,713.48 941.53,713.68 942.26,713.88 942.99,714.09 943.72,714.31 944.44,714.54 945.17,714.78 945.9,715.04 946.63,715.3 947.36,715.58 948.09,715.87 948.82,716.18 949.55,716.5 950.27,716.83 951,717.18 951.73,717.55 952.46,717.93 953.19,718.33 953.92,718.75 954.65,719.19 955.38,719.65 956.11,720.13 956.83,720.63 957.56,721.15 958.29,721.7 959.02,722.27 959.75,722.86 960.48,723.48 961.21,724.13 961.94,724.81 962.66,725.51 963.39,726.25 964.12,727.01 964.85,727.81 965.58,728.64 966.31,729.51 967.04,730.41 967.77,731.34 968.49,732.32 969.22,733.33 969.95,734.38 970.68,735.47 971.41,736.6 972.14,737.78 972.87,738.99 973.6,740.25 974.33,741.56 975.05,742.91 975.78,744.31 976.51,745.75 977.24,747.25 977.97,748.79 978.7,750.38 979.43,752.01 980.16,753.7 980.88,755.44 981.61,757.22 982.34,759.06 983.07,760.94 983.8,762.87 984.53,764.85 985.26,766.88 985.99,768.95 986.71,771.08 987.44,773.24 988.17,775.45 988.9,777.7 989.63,779.99 990.36,782.33 991.09,784.7 991.82,787.1 992.54,789.54 993.27,792 994,794.5 994.73,797.02 995.46,799.57 996.19,802.14 996.92,804.72 997.65,807.32 998.38,809.93 999.1,812.55 999.83,815.18 1000.56,817.8 1001.29,820.43 1002.02,823.05 1002.75,825.67 1003.48,828.28 1004.21,830.87 1004.93,833.45 1005.66,836.01 1006.39,838.55 1007.12,841.07 1007.85,843.55 1008.58,846.01 1009.31,848.44 1010.04,850.83 1010.76,853.19 1011.49,855.51 1012.22,857.79 1012.95,860.03 1013.68,862.22 1014.41,864.37 1015.14,866.48 1015.87,868.54 1016.6,870.55 1017.32,872.52 1018.05,874.44 1018.78,876.3 1019.51,878.12 1020.24,879.89 1020.97,881.61 1021.7,883.28 1022.43,884.9 1023.15,886.48 1023.88,888 1024.61,889.48 1025.34,890.91 1026.07,892.29 1026.8,893.63 1027.53,894.92 1028.26,896.17 1028.98,897.37 1029.71,898.53 1030.44,899.65 1031.17,900.73 1031.9,901.77 1032.63,902.76 1033.36,903.73 1034.09,904.65 1034.82,905.54 1035.54,906.39 1036.27,907.21 1037,908 1037.73,908.76 1038.46,909.48 1039.19,910.18 1039.92,910.85 1040.65,911.49 1041.37,912.1 1042.1,912.69 1042.83,913.25 1043.56,913.79 1044.29,914.3 1045.02,914.8 1045.75,915.27 1046.48,915.72 1047.2,916.15 1047.93,916.57 1048.66,916.96 1049.39,917.34 1050.12,917.7 1050.85,918.04 1051.58,918.37 1052.31,918.69 1053.04,918.99 1053.76,919.28 1054.49,919.55 1055.22,919.81 1055.95,920.06 1056.68,920.3 1057.41,920.53 1058.14,920.75 1058.87,920.96 1059.59,921.15 1060.32,921.34 1061.05,921.52 1061.78,921.7 1062.51,921.86 1063.24,922.02 1063.97,922.17 1064.7,922.31 1065.42,922.44 1066.15,922.57 1066.88,922.7 1067.61,922.82 1068.34,922.93 1069.07,923.03 1069.8,923.14 1070.53,923.23 1071.26,923.33 1071.98,923.42" fill="none" stroke="#0a1ed0" stroke-width="3.6" stroke-linejoin="round"/>
<line x1="712" y1="925.4" x2="719" y2="925.4" stroke="#000" stroke-width="4.2" stroke-linecap="round"/>
<line x1="715.5" y1="925.4" x2="715.5" y2="945.4" stroke="#000" stroke-width="4.2" stroke-linecap="round"/>
<path d="M735.28,932.4V925.4H1072.58V932.4" stroke="#000" stroke-width="4.2" fill="none" stroke-linecap="round" stroke-linejoin="round"/>
<line x1="735.28" y1="925.4" x2="735.28" y2="932.4" stroke="#000" stroke-width="4.2" stroke-linecap="round"/>
<line x1="764.98" y1="925.4" x2="764.98" y2="932.4" stroke="#000" stroke-width="4.2" stroke-linecap="round"/>
<line x1="786.05" y1="925.4" x2="786.05" y2="932.4" stroke="#000" stroke-width="4.2" stroke-linecap="round"/>
<line x1="802.39" y1="925.4" x2="802.39" y2="932.4" stroke="#000" stroke-width="4.2" stroke-linecap="round"/>
<line x1="815.75" y1="925.4" x2="815.75" y2="932.4" stroke="#000" stroke-width="4.2" stroke-linecap="round"/>
<line x1="827.04" y1="925.4" x2="827.04" y2="932.4" stroke="#000" stroke-width="4.2" stroke-linecap="round"/>
<line x1="836.82" y1="925.4" x2="836.82" y2="932.4" stroke="#000" stroke-width="4.2" stroke-linecap="round"/>
<line x1="845.44" y1="925.4" x2="845.44" y2="932.4" stroke="#000" stroke-width="4.2" stroke-linecap="round"/>
<line x1="853.16" y1="925.4" x2="853.16" y2="940.4" stroke="#000" stroke-width="4.2" stroke-linecap="round"/>
<line x1="903.93" y1="925.4" x2="903.93" y2="932.4" stroke="#000" stroke-width="4.2" stroke-linecap="round"/>
<line x1="933.63" y1="925.4" x2="933.63" y2="932.4" stroke="#000" stroke-width="4.2" stroke-linecap="round"/>
<line x1="954.7" y1="925.4" x2="954.7" y2="932.4" stroke="#000" stroke-width="4.2" stroke-linecap="round"/>
<line x1="971.04" y1="925.4" x2="971.04" y2="932.4" stroke="#000" stroke-width="4.2" stroke-linecap="round"/>
<line x1="984.4" y1="925.4" x2="984.4" y2="932.4" stroke="#000" stroke-width="4.2" stroke-linecap="round"/>
<line x1="995.69" y1="925.4" x2="995.69" y2="932.4" stroke="#000" stroke-width="4.2" stroke-linecap="round"/>
<line x1="1005.47" y1="925.4" x2="1005.47" y2="932.4" stroke="#000" stroke-width="4.2" stroke-linecap="round"/>
<line x1="1014.09" y1="925.4" x2="1014.09" y2="932.4" stroke="#000" stroke-width="4.2" stroke-linecap="round"/>
<line x1="1021.81" y1="925.4" x2="1021.81" y2="940.4" stroke="#000" stroke-width="4.2" stroke-linecap="round"/>
<line x1="1072.58" y1="925.4" x2="1072.58" y2="932.4" stroke="#000" stroke-width="4.2" stroke-linecap="round"/>
<text x="715.5" y="983" font-size="32" text-anchor="middle" >0</text>
<text x="853.16" y="983" font-size="32" text-anchor="middle" >1</text>
<text x="1021.81" y="983" font-size="32" text-anchor="middle" >10</text>
<text transform="translate(903,1021) scale(1.037,1)" font-size="30" text-anchor="middle" >[Paroxetine] (µM)</text>
<text transform="translate(590.5,764.5) rotate(-90) scale(1.035,1)" font-size="30" text-anchor="middle">Motility (% of control)</text>
<path d="M715.5,705.29V719.42M708.5,705.29H722.5M708.5,719.42H722.5" stroke="#0a1ed0" stroke-width="3.2" fill="none"/>
<path d="M715.5,703.35L726.5,721.35L704.5,721.35Z" fill="#0a1ee0"/>
<path d="M818.74,676.38V726.91M811.74,676.38H825.74M811.74,726.91H825.74" stroke="#0a1ed0" stroke-width="3.2" fill="none"/>
<path d="M818.74,692.64L829.74,710.64L807.74,710.64Z" fill="#0a1ee0"/>
<path d="M869.5,685.37V732.48M862.5,685.37H876.5M862.5,732.48H876.5" stroke="#0a1ed0" stroke-width="3.2" fill="none"/>
<path d="M869.5,699.93L880.5,717.93L858.5,717.93Z" fill="#0a1ee0"/>
<path d="M920.27,633.55V683.66M913.27,633.55H927.27M913.27,683.66H927.27" stroke="#0a1ed0" stroke-width="3.2" fill="none"/>
<path d="M920.27,649.6L931.27,667.6L909.27,667.6Z" fill="#0a1ee0"/>
<path d="M971.04,707.43V777.66M964.04,707.43H978.04M964.04,777.66H978.04" stroke="#0a1ed0" stroke-width="3.2" fill="none"/>
<path d="M971.04,733.54L982.04,751.54L960.04,751.54Z" fill="#0a1ee0"/>
<path d="M1021.81,856.46V905.71M1014.81,856.46H1028.81M1014.81,905.71H1028.81" stroke="#0a1ed0" stroke-width="3.2" fill="none"/>
<path d="M1021.81,872.09L1032.81,890.09L1010.81,890.09Z" fill="#0a1ee0"/>
<text x="1123" y="563.5" font-size="36" text-anchor="start" >F</text>
<path d="M1234.7,604H1254.7V925.2H1234.7" stroke="#000" stroke-width="4.2" fill="none" stroke-linecap="round" stroke-linejoin="round"/>
<line x1="1234.7" y1="818.13" x2="1254.7" y2="818.13" stroke="#000" stroke-width="4.2" stroke-linecap="round"/>
<line x1="1234.7" y1="711.07" x2="1254.7" y2="711.07" stroke="#000" stroke-width="4.2" stroke-linecap="round"/>
<text transform="translate(1225.2,936) scale(0.97,1)" font-size="32" text-anchor="end" >0</text>
<text transform="translate(1225.2,828.93) scale(0.97,1)" font-size="32" text-anchor="end" >50</text>
<text transform="translate(1225.2,721.87) scale(0.97,1)" font-size="32" text-anchor="end" >100</text>
<text transform="translate(1225.2,614.8) scale(0.97,1)" font-size="32" text-anchor="end" >150</text>
<line x1="1291.38" y1="687.08" x2="1629.08" y2="687.08" stroke="#000" stroke-width="3.6" stroke-linecap="butt"/>
<line x1="1267.9" y1="925.5" x2="1274.9" y2="925.5" stroke="#000" stroke-width="4.2" stroke-linecap="round"/>
<line x1="1271.4" y1="925.5" x2="1271.4" y2="945.5" stroke="#000" stroke-width="4.2" stroke-linecap="round"/>
<path d="M1291.38,932.5V925.5H1629.08V932.5" stroke="#000" stroke-width="4.2" fill="none" stroke-linecap="round" stroke-linejoin="round"/>
<line x1="1291.38" y1="925.5" x2="1291.38" y2="932.5" stroke="#000" stroke-width="4.2" stroke-linecap="round"/>
<line x1="1321.11" y1="925.5" x2="1321.11" y2="932.5" stroke="#000" stroke-width="4.2" stroke-linecap="round"/>
<line x1="1342.21" y1="925.5" x2="1342.21" y2="932.5" stroke="#000" stroke-width="4.2" stroke-linecap="round"/>
<line x1="1358.57" y1="925.5" x2="1358.57" y2="932.5" stroke="#000" stroke-width="4.2" stroke-linecap="round"/>
<line x1="1371.94" y1="925.5" x2="1371.94" y2="932.5" stroke="#000" stroke-width="4.2" stroke-linecap="round"/>
<line x1="1383.24" y1="925.5" x2="1383.24" y2="932.5" stroke="#000" stroke-width="4.2" stroke-linecap="round"/>
<line x1="1393.04" y1="925.5" x2="1393.04" y2="932.5" stroke="#000" stroke-width="4.2" stroke-linecap="round"/>
<line x1="1401.67" y1="925.5" x2="1401.67" y2="932.5" stroke="#000" stroke-width="4.2" stroke-linecap="round"/>
<line x1="1409.4" y1="925.5" x2="1409.4" y2="940.5" stroke="#000" stroke-width="4.2" stroke-linecap="round"/>
<line x1="1460.23" y1="925.5" x2="1460.23" y2="932.5" stroke="#000" stroke-width="4.2" stroke-linecap="round"/>
<line x1="1489.96" y1="925.5" x2="1489.96" y2="932.5" stroke="#000" stroke-width="4.2" stroke-linecap="round"/>
<line x1="1511.06" y1="925.5" x2="1511.06" y2="932.5" stroke="#000" stroke-width="4.2" stroke-linecap="round"/>
<line x1="1527.42" y1="925.5" x2="1527.42" y2="932.5" stroke="#000" stroke-width="4.2" stroke-linecap="round"/>
<line x1="1540.79" y1="925.5" x2="1540.79" y2="932.5" stroke="#000" stroke-width="4.2" stroke-linecap="round"/>
<line x1="1552.09" y1="925.5" x2="1552.09" y2="932.5" stroke="#000" stroke-width="4.2" stroke-linecap="round"/>
<line x1="1561.89" y1="925.5" x2="1561.89" y2="932.5" stroke="#000" stroke-width="4.2" stroke-linecap="round"/>
<line x1="1570.52" y1="925.5" x2="1570.52" y2="932.5" stroke="#000" stroke-width="4.2" stroke-linecap="round"/>
<line x1="1578.25" y1="925.5" x2="1578.25" y2="940.5" stroke="#000" stroke-width="4.2" stroke-linecap="round"/>
<line x1="1629.08" y1="925.5" x2="1629.08" y2="932.5" stroke="#000" stroke-width="4.2" stroke-linecap="round"/>
<text x="1271.4" y="983" font-size="32" text-anchor="middle" >0</text>
<text x="1409.4" y="983" font-size="32" text-anchor="middle" >1</text>
<text x="1578.25" y="983" font-size="32" text-anchor="middle" >10</text>
<text transform="translate(1459,1021) scale(1.037,1)" font-size="30" text-anchor="middle" >[Chlorpromazine] (µM)</text>
<text transform="translate(1146.8,764.5) rotate(-90) scale(1.035,1)" font-size="30" text-anchor="middle">Motility (% of control)</text>
<circle cx="1271.4" cy="713.21" r="9.3" fill="#000"/>
<path d="M1374.93,729.27V771.24M1367.93,729.27H1381.93M1367.93,771.24H1381.93" stroke="#000" stroke-width="3.2" fill="none"/>
<circle cx="1374.93" cy="750.25" r="9.3" fill="#000"/>
<path d="M1425.76,727.13V771.24M1418.76,727.13H1432.76M1418.76,771.24H1432.76" stroke="#000" stroke-width="3.2" fill="none"/>
<circle cx="1425.76" cy="749.18" r="9.3" fill="#000"/>
<path d="M1476.59,677.66V698.65M1469.59,677.66H1483.59M1469.59,698.65H1483.59" stroke="#000" stroke-width="3.2" fill="none"/>
<circle cx="1476.59" cy="688.15" r="9.3" fill="#000"/>
<path d="M1527.42,649.61V668.45M1520.42,649.61H1534.42M1520.42,668.45H1534.42" stroke="#000" stroke-width="3.2" fill="none"/>
<circle cx="1527.42" cy="659.03" r="9.3" fill="#000"/>
<path d="M1578.25,657.75V676.59M1571.25,657.75H1585.25M1571.25,676.59H1585.25" stroke="#000" stroke-width="3.2" fill="none"/>
<circle cx="1578.25" cy="667.17" r="9.3" fill="#000"/>
<text x="1.5" y="1076.5" font-size="36" text-anchor="start" >G</text>
<path d="M111.9,1115.5H131.9V1434.9H111.9" stroke="#000" stroke-width="4.2" fill="none" stroke-linecap="round" stroke-linejoin="round"/>
<line x1="111.9" y1="1328.43" x2="131.9" y2="1328.43" stroke="#000" stroke-width="4.2" stroke-linecap="round"/>
<line x1="111.9" y1="1221.97" x2="131.9" y2="1221.97" stroke="#000" stroke-width="4.2" stroke-linecap="round"/>
<text transform="translate(102.4,1445.7) scale(0.97,1)" font-size="32" text-anchor="end" >0</text>
<text transform="translate(102.4,1339.23) scale(0.97,1)" font-size="32" text-anchor="end" >50</text>
<text transform="translate(102.4,1232.77) scale(0.97,1)" font-size="32" text-anchor="end" >100</text>
<text transform="translate(102.4,1126.3) scale(0.97,1)" font-size="32" text-anchor="end" >150</text>
<polyline points="232.33,1267.11 233.42,1267.11 234.5,1267.11 235.58,1267.11 236.67,1267.11 237.75,1267.11 238.84,1267.11 239.92,1267.11 241,1267.11 242.09,1267.11 243.17,1267.11 244.26,1267.11 245.34,1267.11 246.42,1267.11 247.51,1267.11 248.59,1267.11 249.68,1267.11 250.76,1267.11 251.85,1267.11 252.93,1267.11 254.01,1267.11 255.1,1267.11 256.18,1267.11 257.27,1267.11 258.35,1267.11 259.43,1267.11 260.52,1267.11 261.6,1267.11 262.69,1267.11 263.77,1267.11 264.85,1267.11 265.94,1267.11 267.02,1267.11 268.11,1267.11 269.19,1267.11 270.28,1267.11 271.36,1267.11 272.44,1267.11 273.53,1267.11 274.61,1267.11 275.7,1267.11 276.78,1267.11 277.86,1267.11 278.95,1267.11 280.03,1267.11 281.12,1267.11 282.2,1267.11 283.28,1267.11 284.37,1267.11 285.45,1267.11 286.54,1267.11 287.62,1267.11 288.7,1267.11 289.79,1267.11 290.87,1267.11 291.96,1267.11 293.04,1267.11 294.13,1267.11 295.21,1267.11 296.29,1267.11 297.38,1267.11 298.46,1267.11 299.55,1267.11 300.63,1267.11 301.71,1267.11 302.8,1267.11 303.88,1267.11 304.97,1267.11 306.05,1267.11 307.13,1267.11 308.22,1267.11 309.3,1267.11 310.39,1267.11 311.47,1267.11 312.56,1267.11 313.64,1267.11 314.72,1267.11 315.81,1267.11 316.89,1267.11 317.98,1267.11 319.06,1267.11 320.14,1267.11 321.23,1267.11 322.31,1267.11 323.4,1267.11 324.48,1267.11 325.56,1267.11 326.65,1267.11 327.73,1267.11 328.82,1267.11 329.9,1267.11 330.99,1267.11 332.07,1267.11 333.15,1267.11 334.24,1267.11 335.32,1267.11 336.41,1267.11 337.49,1267.11 338.57,1267.11 339.66,1267.11 340.74,1267.11 341.83,1267.11 342.91,1267.11 343.99,1267.11 345.08,1267.11 346.16,1267.11 347.25,1267.11 348.33,1267.11 349.42,1267.11 350.5,1267.11 351.58,1267.11 352.67,1267.11 353.75,1267.11 354.84,1267.11 355.92,1267.11 357,1267.11 358.09,1267.11 359.17,1267.11 360.26,1267.11 361.34,1267.11 362.42,1267.11 363.51,1267.11 364.59,1267.11 365.68,1267.11 366.76,1267.11 367.85,1267.11 368.93,1267.11 370.01,1267.11 371.1,1267.11 372.18,1267.11 373.27,1267.11 374.35,1267.11 375.43,1267.11 376.52,1267.11 377.6,1267.11 378.69,1267.11 379.77,1267.11 380.85,1267.11 381.94,1267.11 383.02,1267.11 384.11,1267.11 385.19,1267.11 386.28,1267.11 387.36,1267.11 388.44,1267.11 389.53,1267.11 390.61,1267.11 391.7,1267.11 392.78,1267.11 393.86,1267.11 394.95,1267.11 396.03,1267.11 397.12,1267.11 398.2,1267.11 399.28,1267.11 400.37,1267.11 401.45,1267.11 402.54,1267.11 403.62,1267.11 404.71,1267.11 405.79,1267.11 406.87,1267.11 407.96,1267.11 409.04,1267.11 410.13,1267.11 411.21,1267.11 412.29,1267.11 413.38,1267.11 414.46,1267.11 415.55,1267.11 416.63,1267.11 417.71,1267.11 418.8,1267.11 419.88,1267.11 420.97,1267.11 422.05,1267.11 423.14,1267.11 424.22,1267.11 425.3,1267.11 426.39,1267.11 427.47,1267.11 428.56,1267.11 429.64,1267.11 430.72,1267.11 431.81,1267.11 432.89,1267.11 433.98,1267.11 435.06,1267.11 436.14,1267.11 437.23,1267.11 438.31,1267.11 439.4,1267.11 440.48,1267.11 441.57,1267.11 442.65,1267.11 443.73,1267.11 444.82,1267.11 445.9,1267.11 446.99,1267.11 448.07,1267.11 449.15,1267.11 450.24,1267.11 451.32,1267.11 452.41,1267.11 453.49,1267.11 454.57,1267.11 455.66,1267.11 456.74,1267.11 457.83,1267.11 458.91,1267.11 459.99,1267.11 461.08,1267.11 462.16,1267.11 463.25,1267.11 464.33,1267.11 465.42,1267.11 466.5,1267.11 467.58,1267.11 468.67,1267.11 469.75,1267.11 470.84,1267.11 471.92,1267.11 473,1267.11 474.09,1267.11 475.17,1267.11 476.26,1267.11 477.34,1267.11 478.42,1267.11 479.51,1267.11 480.59,1267.11 481.68,1267.11 482.76,1267.11 483.85,1267.11 484.93,1267.11 486.01,1267.11 487.1,1267.11 488.18,1267.11 489.27,1267.11 490.35,1267.11 491.43,1267.11 492.52,1267.11 493.6,1267.11 494.69,1267.11 495.77,1267.11 496.85,1267.11 497.94,1267.11 499.02,1267.11 500.11,1267.11 501.19,1267.11 502.28,1267.11 503.36,1267.11 504.44,1267.11 505.53,1267.11 506.61,1267.11 507.7,1267.11 508.78,1267.11 509.86,1267.11 510.95,1267.11 512.03,1267.11 513.12,1267.11 514.2,1267.11 515.28,1267.11 516.37,1267.11 517.45,1267.11 518.54,1267.11 519.62,1267.11 520.71,1267.11 521.79,1267.11 522.87,1267.11 523.96,1267.11 525.04,1267.11 526.13,1267.11 527.21,1267.11 528.29,1267.11 529.38,1267.11 530.46,1267.11 531.55,1267.11 532.63,1267.11 533.71,1267.11 534.8,1267.11 535.88,1267.11 536.97,1267.11 538.05,1267.11 539.14,1267.11 540.22,1267.11 541.3,1267.11 542.39,1267.11 543.47,1267.11 544.56,1267.11 545.64,1267.11 546.72,1267.11 547.81,1267.11 548.89,1267.11 549.98,1267.11 551.06,1267.11 552.14,1267.11 553.23,1267.11 554.31,1267.11 555.4,1267.11 556.48,1267.11 557.57,1267.11 558.65,1267.11 559.73,1267.11 560.82,1267.11 561.9,1267.11 562.99,1267.11 564.07,1267.11 565.15,1267.11 566.24,1267.11 567.32,1267.11 568.41,1267.11 569.49,1267.11 570.57,1267.11 571.66,1267.11 572.74,1267.11 573.83,1267.11 574.91,1267.11 576,1267.11 577.08,1267.11 578.16,1267.11 579.25,1267.11 580.33,1267.11 581.42,1267.11 582.5,1267.11 583.58,1267.11 584.67,1267.11 585.75,1267.11 586.84,1267.11 587.92,1267.11 589,1267.11 590.09,1267.11 591.17,1267.11 592.26,1267.11 593.34,1267.11 594.43,1267.11 595.51,1267.11 596.59,1267.11 597.68,1267.11 598.76,1267.11 599.85,1267.11 600.93,1267.11 602.01,1267.11 603.1,1267.11 604.18,1267.11 605.27,1267.11 606.35,1267.11 607.43,1267.11 608.52,1267.11 609.6,1267.11 610.69,1267.11 611.77,1267.11 612.86,1267.11 613.94,1267.11 615.02,1267.11 616.11,1267.11 617.19,1267.11 618.28,1267.11 619.36,1267.11 620.44,1267.11 621.53,1267.11 622.61,1267.11 623.7,1267.11 624.78,1267.11 625.86,1267.11 626.95,1267.11 628.03,1267.11 629.12,1267.11 630.2,1267.11 631.28,1267.11 632.37,1267.11 633.45,1267.11 634.54,1267.11 635.62,1267.11 636.71,1267.11 637.79,1267.11 638.87,1267.11 639.96,1267.11 641.04,1267.11 642.13,1267.11 643.21,1267.11 644.29,1267.11 645.38,1267.11 646.46,1267.11 647.55,1267.11 648.63,1267.11 649.71,1267.11 650.8,1267.11 651.88,1267.11 652.97,1267.11 654.05,1267.11 655.14,1267.11 656.22,1267.11 657.3,1267.11 658.39,1267.11 659.47,1267.11 660.56,1267.11 661.64,1267.11 662.72,1267.11 663.81,1267.11 664.89,1267.11 665.98,1267.11 667.06,1267.11 668.14,1267.11 669.23,1267.11 670.31,1267.11 671.4,1267.11 672.48,1267.11 673.57,1267.11 674.65,1267.11 675.73,1267.11 676.82,1267.11 677.9,1267.11 678.99,1267.11 680.07,1267.11 681.15,1267.11 682.24,1267.11 683.32,1267.11 684.41,1267.11 685.49,1267.11 686.57,1267.11 687.66,1267.11 688.74,1267.11 689.83,1267.12 690.91,1267.12 692,1267.12 693.08,1267.12 694.16,1267.12 695.25,1267.12 696.33,1267.12 697.42,1267.12 698.5,1267.12 699.58,1267.12 700.67,1267.12 701.75,1267.12 702.84,1267.12 703.92,1267.12 705,1267.12 706.09,1267.12 707.17,1267.12 708.26,1267.12 709.34,1267.13 710.43,1267.13 711.51,1267.13 712.59,1267.13 713.68,1267.13 714.76,1267.13 715.85,1267.13 716.93,1267.13 718.01,1267.13 719.1,1267.14 720.18,1267.14 721.27,1267.14 722.35,1267.14 723.43,1267.14 724.52,1267.14 725.6,1267.15 726.69,1267.15 727.77,1267.15 728.86,1267.15 729.94,1267.15 731.02,1267.16 732.11,1267.16 733.19,1267.16 734.28,1267.17 735.36,1267.17 736.44,1267.17 737.53,1267.17 738.61,1267.18 739.7,1267.18 740.78,1267.19 741.86,1267.19 742.95,1267.19 744.03,1267.2 745.12,1267.2 746.2,1267.21 747.29,1267.22 748.37,1267.22 749.45,1267.23 750.54,1267.23 751.62,1267.24 752.71,1267.25 753.79,1267.26 754.87,1267.26 755.96,1267.27 757.04,1267.28 758.13,1267.29 759.21,1267.3 760.29,1267.31 761.38,1267.32 762.46,1267.33 763.55,1267.34 764.63,1267.36 765.72,1267.37 766.8,1267.38 767.88,1267.4 768.97,1267.42 770.05,1267.43 771.14,1267.45 772.22,1267.47 773.3,1267.49 774.39,1267.51 775.47,1267.53 776.56,1267.55 777.64,1267.58 778.72,1267.6 779.81,1267.63 780.89,1267.66 781.98,1267.69 783.06,1267.72 784.15,1267.75 785.23,1267.79 786.31,1267.82 787.4,1267.86 788.48,1267.9 789.57,1267.94 790.65,1267.99 791.73,1268.04 792.82,1268.09 793.9,1268.14 794.99,1268.19 796.07,1268.25 797.15,1268.32 798.24,1268.38 799.32,1268.45 800.41,1268.52 801.49,1268.6 802.57,1268.68 803.66,1268.76 804.74,1268.85 805.83,1268.94 806.91,1269.04 808,1269.15 809.08,1269.25 810.16,1269.37 811.25,1269.49 812.33,1269.62 813.42,1269.75 814.5,1269.89 815.58,1270.04 816.67,1270.2 817.75,1270.36 818.84,1270.54 819.92,1270.72 821,1270.91 822.09,1271.11 823.17,1271.32 824.26,1271.55 825.34,1271.78 826.43,1272.03 827.51,1272.28 828.59,1272.56 829.68,1272.84 830.76,1273.14 831.85,1273.46 832.93,1273.79 834.01,1274.14 835.1,1274.5 836.18,1274.88 837.27,1275.28 838.35,1275.71 839.43,1276.15 840.52,1276.61 841.6,1277.09 842.69,1277.6 843.77,1278.14 844.86,1278.69 845.94,1279.28 847.02,1279.89 848.11,1280.52 849.19,1281.19 850.28,1281.89 851.36,1282.62 852.44,1283.38 853.53,1284.17 854.61,1285 855.7,1285.86 856.78,1286.76 857.86,1287.7 858.95,1288.67 860.03,1289.68 861.12,1290.74 862.2,1291.83 863.29,1292.97 864.37,1294.14 865.45,1295.36 866.54,1296.63 867.62,1297.94 868.71,1299.29 869.79,1300.69 870.87,1302.13 871.96,1303.62 873.04,1305.15 874.13,1306.73 875.21,1308.35 876.29,1310.01 877.38,1311.72 878.46,1313.48 879.55,1315.27 880.63,1317.11 881.72,1318.98 882.8,1320.9 883.88,1322.85 884.97,1324.83 886.05,1326.85 887.14,1328.9 888.22,1330.98 889.3,1333.08 890.39,1335.21 891.47,1337.36 892.56,1339.53 893.64,1341.71 894.72,1343.91 895.81,1346.11 896.89,1348.32 897.98,1350.54 899.06,1352.76 900.15,1354.97 901.23,1357.18 902.31,1359.38 903.4,1361.57 904.48,1363.75 905.57,1365.91 906.65,1368.04 907.73,1370.16 908.82,1372.25 909.9,1374.31 910.99,1376.34 912.07,1378.34 913.15,1380.3 914.24,1382.23 915.32,1384.12 916.41,1385.98 917.49,1387.79 918.58,1389.56 919.66,1391.29 920.74,1392.97 921.83,1394.61 922.91,1396.21 924,1397.76 925.08,1399.27 926.16,1400.73 927.25,1402.14 928.33,1403.51 929.42,1404.84 930.5,1406.12 931.58,1407.36 932.67,1408.56 933.75,1409.71 934.84,1410.82 935.92,1411.89 937.01,1412.92 938.09,1413.91 939.17,1414.86 940.26,1415.78 941.34,1416.65 942.43,1417.5 943.51,1418.3 944.59,1419.08 945.68,1419.82 946.76,1420.53 947.85,1421.21 948.93,1421.86 950.01,1422.48 951.1,1423.08 952.18,1423.64 953.27,1424.19 954.35,1424.7 955.44,1425.2 956.52,1425.67 957.6,1426.12 958.69,1426.55 959.77,1426.96 960.86,1427.35 961.94,1427.72 963.02,1428.08 964.11,1428.42 965.19,1428.74 966.28,1429.04 967.36,1429.34 968.44,1429.61 969.53,1429.88 970.61,1430.13 971.7,1430.37 972.78,1430.59 973.86,1430.81 974.95,1431.02 976.03,1431.21 977.12,1431.4 978.2,1431.57 979.29,1431.74 980.37,1431.9 981.45,1432.05 982.54,1432.2 983.62,1432.34 984.71,1432.47 985.79,1432.59 986.87,1432.71 987.96,1432.82" fill="none" stroke="#ee0000" stroke-width="3.6" stroke-linejoin="round"/>
<polyline points="232.33,1219.41 233.42,1219.41 234.5,1219.41 235.58,1219.41 236.67,1219.41 237.75,1219.41 238.84,1219.41 239.92,1219.41 241,1219.41 242.09,1219.41 243.17,1219.41 244.26,1219.41 245.34,1219.41 246.42,1219.41 247.51,1219.41 248.59,1219.41 249.68,1219.41 250.76,1219.41 251.85,1219.41 252.93,1219.41 254.01,1219.41 255.1,1219.41 256.18,1219.41 257.27,1219.41 258.35,1219.41 259.43,1219.41 260.52,1219.41 261.6,1219.41 262.69,1219.41 263.77,1219.41 264.85,1219.41 265.94,1219.41 267.02,1219.41 268.11,1219.41 269.19,1219.41 270.28,1219.41 271.36,1219.41 272.44,1219.41 273.53,1219.41 274.61,1219.41 275.7,1219.41 276.78,1219.41 277.86,1219.41 278.95,1219.41 280.03,1219.41 281.12,1219.41 282.2,1219.41 283.28,1219.41 284.37,1219.41 285.45,1219.41 286.54,1219.41 287.62,1219.41 288.7,1219.41 289.79,1219.41 290.87,1219.41 291.96,1219.41 293.04,1219.41 294.13,1219.41 295.21,1219.41 296.29,1219.41 297.38,1219.41 298.46,1219.41 299.55,1219.41 300.63,1219.41 301.71,1219.41 302.8,1219.41 303.88,1219.41 304.97,1219.41 306.05,1219.41 307.13,1219.41 308.22,1219.41 309.3,1219.41 310.39,1219.41 311.47,1219.41 312.56,1219.41 313.64,1219.41 314.72,1219.41 315.81,1219.41 316.89,1219.41 317.98,1219.41 319.06,1219.41 320.14,1219.41 321.23,1219.41 322.31,1219.41 323.4,1219.41 324.48,1219.41 325.56,1219.41 326.65,1219.41 327.73,1219.41 328.82,1219.41 329.9,1219.41 330.99,1219.41 332.07,1219.41 333.15,1219.41 334.24,1219.41 335.32,1219.41 336.41,1219.41 337.49,1219.41 338.57,1219.41 339.66,1219.41 340.74,1219.41 341.83,1219.41 342.91,1219.41 343.99,1219.41 345.08,1219.41 346.16,1219.41 347.25,1219.41 348.33,1219.41 349.42,1219.41 350.5,1219.41 351.58,1219.41 352.67,1219.41 353.75,1219.41 354.84,1219.41 355.92,1219.41 357,1219.41 358.09,1219.41 359.17,1219.41 360.26,1219.41 361.34,1219.41 362.42,1219.41 363.51,1219.41 364.59,1219.41 365.68,1219.41 366.76,1219.41 367.85,1219.41 368.93,1219.41 370.01,1219.41 371.1,1219.41 372.18,1219.41 373.27,1219.41 374.35,1219.41 375.43,1219.41 376.52,1219.41 377.6,1219.41 378.69,1219.41 379.77,1219.41 380.85,1219.41 381.94,1219.41 383.02,1219.41 384.11,1219.41 385.19,1219.41 386.28,1219.41 387.36,1219.41 388.44,1219.41 389.53,1219.41 390.61,1219.41 391.7,1219.41 392.78,1219.42 393.86,1219.42 394.95,1219.42 396.03,1219.42 397.12,1219.42 398.2,1219.42 399.28,1219.42 400.37,1219.42 401.45,1219.42 402.54,1219.42 403.62,1219.42 404.71,1219.42 405.79,1219.42 406.87,1219.42 407.96,1219.42 409.04,1219.42 410.13,1219.42 411.21,1219.42 412.29,1219.42 413.38,1219.42 414.46,1219.42 415.55,1219.42 416.63,1219.42 417.71,1219.42 418.8,1219.42 419.88,1219.42 420.97,1219.42 422.05,1219.42 423.14,1219.42 424.22,1219.42 425.3,1219.42 426.39,1219.42 427.47,1219.42 428.56,1219.42 429.64,1219.42 430.72,1219.42 431.81,1219.42 432.89,1219.42 433.98,1219.42 435.06,1219.42 436.14,1219.42 437.23,1219.42 438.31,1219.42 439.4,1219.42 440.48,1219.42 441.57,1219.42 442.65,1219.42 443.73,1219.42 444.82,1219.42 445.9,1219.42 446.99,1219.42 448.07,1219.42 449.15,1219.42 450.24,1219.42 451.32,1219.43 452.41,1219.43 453.49,1219.43 454.57,1219.43 455.66,1219.43 456.74,1219.43 457.83,1219.43 458.91,1219.43 459.99,1219.43 461.08,1219.43 462.16,1219.43 463.25,1219.43 464.33,1219.43 465.42,1219.43 466.5,1219.43 467.58,1219.43 468.67,1219.43 469.75,1219.43 470.84,1219.43 471.92,1219.43 473,1219.43 474.09,1219.43 475.17,1219.43 476.26,1219.44 477.34,1219.44 478.42,1219.44 479.51,1219.44 480.59,1219.44 481.68,1219.44 482.76,1219.44 483.85,1219.44 484.93,1219.44 486.01,1219.44 487.1,1219.44 488.18,1219.44 489.27,1219.44 490.35,1219.44 491.43,1219.45 492.52,1219.45 493.6,1219.45 494.69,1219.45 495.77,1219.45 496.85,1219.45 497.94,1219.45 499.02,1219.45 500.11,1219.45 501.19,1219.45 502.28,1219.46 503.36,1219.46 504.44,1219.46 505.53,1219.46 506.61,1219.46 507.7,1219.46 508.78,1219.46 509.86,1219.46 510.95,1219.47 512.03,1219.47 513.12,1219.47 514.2,1219.47 515.28,1219.47 516.37,1219.47 517.45,1219.47 518.54,1219.48 519.62,1219.48 520.71,1219.48 521.79,1219.48 522.87,1219.48 523.96,1219.48 525.04,1219.49 526.13,1219.49 527.21,1219.49 528.29,1219.49 529.38,1219.49 530.46,1219.5 531.55,1219.5 532.63,1219.5 533.71,1219.5 534.8,1219.5 535.88,1219.51 536.97,1219.51 538.05,1219.51 539.14,1219.51 540.22,1219.52 541.3,1219.52 542.39,1219.52 543.47,1219.52 544.56,1219.53 545.64,1219.53 546.72,1219.53 547.81,1219.54 548.89,1219.54 549.98,1219.54 551.06,1219.55 552.14,1219.55 553.23,1219.55 554.31,1219.56 555.4,1219.56 556.48,1219.56 557.57,1219.57 558.65,1219.57 559.73,1219.58 560.82,1219.58 561.9,1219.58 562.99,1219.59 564.07,1219.59 565.15,1219.6 566.24,1219.6 567.32,1219.61 568.41,1219.61 569.49,1219.62 570.57,1219.62 571.66,1219.63 572.74,1219.63 573.83,1219.64 574.91,1219.64 576,1219.65 577.08,1219.66 578.16,1219.66 579.25,1219.67 580.33,1219.68 581.42,1219.68 582.5,1219.69 583.58,1219.7 584.67,1219.7 585.75,1219.71 586.84,1219.72 587.92,1219.73 589,1219.73 590.09,1219.74 591.17,1219.75 592.26,1219.76 593.34,1219.77 594.43,1219.78 595.51,1219.79 596.59,1219.79 597.68,1219.8 598.76,1219.81 599.85,1219.82 600.93,1219.83 602.01,1219.85 603.1,1219.86 604.18,1219.87 605.27,1219.88 606.35,1219.89 607.43,1219.9 608.52,1219.92 609.6,1219.93 610.69,1219.94 611.77,1219.95 612.86,1219.97 613.94,1219.98 615.02,1220 616.11,1220.01 617.19,1220.03 618.28,1220.04 619.36,1220.06 620.44,1220.07 621.53,1220.09 622.61,1220.11 623.7,1220.13 624.78,1220.14 625.86,1220.16 626.95,1220.18 628.03,1220.2 629.12,1220.22 630.2,1220.24 631.28,1220.26 632.37,1220.28 633.45,1220.3 634.54,1220.33 635.62,1220.35 636.71,1220.37 637.79,1220.4 638.87,1220.42 639.96,1220.45 641.04,1220.47 642.13,1220.5 643.21,1220.53 644.29,1220.56 645.38,1220.58 646.46,1220.61 647.55,1220.64 648.63,1220.68 649.71,1220.71 650.8,1220.74 651.88,1220.77 652.97,1220.81 654.05,1220.84 655.14,1220.88 656.22,1220.91 657.3,1220.95 658.39,1220.99 659.47,1221.03 660.56,1221.07 661.64,1221.11 662.72,1221.16 663.81,1221.2 664.89,1221.24 665.98,1221.29 667.06,1221.34 668.14,1221.38 669.23,1221.43 670.31,1221.48 671.4,1221.54 672.48,1221.59 673.57,1221.64 674.65,1221.7 675.73,1221.76 676.82,1221.82 677.9,1221.88 678.99,1221.94 680.07,1222 681.15,1222.06 682.24,1222.13 683.32,1222.2 684.41,1222.27 685.49,1222.34 686.57,1222.41 687.66,1222.49 688.74,1222.56 689.83,1222.64 690.91,1222.72 692,1222.8 693.08,1222.89 694.16,1222.97 695.25,1223.06 696.33,1223.15 697.42,1223.25 698.5,1223.34 699.58,1223.44 700.67,1223.54 701.75,1223.64 702.84,1223.75 703.92,1223.85 705,1223.96 706.09,1224.08 707.17,1224.19 708.26,1224.31 709.34,1224.43 710.43,1224.55 711.51,1224.68 712.59,1224.81 713.68,1224.94 714.76,1225.08 715.85,1225.22 716.93,1225.36 718.01,1225.51 719.1,1225.65 720.18,1225.81 721.27,1225.96 722.35,1226.12 723.43,1226.29 724.52,1226.46 725.6,1226.63 726.69,1226.8 727.77,1226.98 728.86,1227.17 729.94,1227.36 731.02,1227.55 732.11,1227.75 733.19,1227.95 734.28,1228.16 735.36,1228.37 736.44,1228.59 737.53,1228.81 738.61,1229.03 739.7,1229.27 740.78,1229.5 741.86,1229.75 742.95,1229.99 744.03,1230.25 745.12,1230.51 746.2,1230.77 747.29,1231.04 748.37,1231.32 749.45,1231.61 750.54,1231.9 751.62,1232.19 752.71,1232.49 753.79,1232.8 754.87,1233.12 755.96,1233.45 757.04,1233.78 758.13,1234.11 759.21,1234.46 760.29,1234.81 761.38,1235.17 762.46,1235.54 763.55,1235.92 764.63,1236.3 765.72,1236.69 766.8,1237.09 767.88,1237.5 768.97,1237.92 770.05,1238.35 771.14,1238.78 772.22,1239.23 773.3,1239.68 774.39,1240.14 775.47,1240.61 776.56,1241.1 777.64,1241.59 778.72,1242.09 779.81,1242.6 780.89,1243.12 781.98,1243.65 783.06,1244.19 784.15,1244.74 785.23,1245.31 786.31,1245.88 787.4,1246.47 788.48,1247.06 789.57,1247.67 790.65,1248.29 791.73,1248.91 792.82,1249.56 793.9,1250.21 794.99,1250.87 796.07,1251.55 797.15,1252.24 798.24,1252.94 799.32,1253.65 800.41,1254.37 801.49,1255.11 802.57,1255.86 803.66,1256.62 804.74,1257.39 805.83,1258.18 806.91,1258.98 808,1259.79 809.08,1260.62 810.16,1261.45 811.25,1262.3 812.33,1263.17 813.42,1264.04 814.5,1264.93 815.58,1265.83 816.67,1266.75 817.75,1267.68 818.84,1268.62 819.92,1269.57 821,1270.54 822.09,1271.51 823.17,1272.51 824.26,1273.51 825.34,1274.53 826.43,1275.56 827.51,1276.6 828.59,1277.65 829.68,1278.72 830.76,1279.79 831.85,1280.88 832.93,1281.99 834.01,1283.1 835.1,1284.22 836.18,1285.36 837.27,1286.51 838.35,1287.66 839.43,1288.83 840.52,1290.01 841.6,1291.2 842.69,1292.4 843.77,1293.61 844.86,1294.82 845.94,1296.05 847.02,1297.29 848.11,1298.53 849.19,1299.78 850.28,1301.04 851.36,1302.31 852.44,1303.59 853.53,1304.87 854.61,1306.16 855.7,1307.46 856.78,1308.76 857.86,1310.06 858.95,1311.38 860.03,1312.69 861.12,1314.01 862.2,1315.34 863.29,1316.67 864.37,1318 865.45,1319.34 866.54,1320.67 867.62,1322.01 868.71,1323.35 869.79,1324.7 870.87,1326.04 871.96,1327.38 873.04,1328.73 874.13,1330.07 875.21,1331.41 876.29,1332.75 877.38,1334.09 878.46,1335.43 879.55,1336.76 880.63,1338.09 881.72,1339.42 882.8,1340.75 883.88,1342.07 884.97,1343.38 886.05,1344.69 887.14,1346 888.22,1347.3 889.3,1348.59 890.39,1349.88 891.47,1351.16 892.56,1352.43 893.64,1353.7 894.72,1354.95 895.81,1356.2 896.89,1357.44 897.98,1358.68 899.06,1359.9 900.15,1361.12 901.23,1362.32 902.31,1363.52 903.4,1364.7 904.48,1365.88 905.57,1367.04 906.65,1368.2 907.73,1369.34 908.82,1370.47 909.9,1371.59 910.99,1372.7 912.07,1373.8 913.15,1374.88 914.24,1375.96 915.32,1377.02 916.41,1378.07 917.49,1379.11 918.58,1380.13 919.66,1381.14 920.74,1382.14 921.83,1383.13 922.91,1384.11 924,1385.07 925.08,1386.02 926.16,1386.95 927.25,1387.88 928.33,1388.79 929.42,1389.68 930.5,1390.57 931.58,1391.44 932.67,1392.3 933.75,1393.14 934.84,1393.98 935.92,1394.8 937.01,1395.61 938.09,1396.4 939.17,1397.18 940.26,1397.95 941.34,1398.71 942.43,1399.45 943.51,1400.19 944.59,1400.91 945.68,1401.61 946.76,1402.31 947.85,1402.99 948.93,1403.67 950.01,1404.33 951.1,1404.97 952.18,1405.61 953.27,1406.24 954.35,1406.85 955.44,1407.45 956.52,1408.05 957.6,1408.63 958.69,1409.2 959.77,1409.76 960.86,1410.3 961.94,1410.84 963.02,1411.37 964.11,1411.89 965.19,1412.4 966.28,1412.89 967.36,1413.38 968.44,1413.86 969.53,1414.33 970.61,1414.79 971.7,1415.24 972.78,1415.68 973.86,1416.11 974.95,1416.53 976.03,1416.95 977.12,1417.35 978.2,1417.75 979.29,1418.14 980.37,1418.52 981.45,1418.9 982.54,1419.26 983.62,1419.62 984.71,1419.97 985.79,1420.31 986.87,1420.65 987.96,1420.98 989.04,1421.3 990.13,1421.61 991.21,1421.92 992.29,1422.22 993.38,1422.52 994.46,1422.8 995.55,1423.08 996.63,1423.36 997.72,1423.63 998.8,1423.89 999.88,1424.15 1000.97,1424.4 1002.05,1424.65 1003.14,1424.89 1004.22,1425.12 1005.3,1425.35 1006.39,1425.58 1007.47,1425.8 1008.56,1426.01 1009.64,1426.22 1010.72,1426.43 1011.81,1426.63 1012.89,1426.83 1013.98,1427.02 1015.06,1427.21 1016.15,1427.39 1017.23,1427.57 1018.31,1427.74 1019.4,1427.91 1020.48,1428.08 1021.57,1428.24 1022.65,1428.4 1023.73,1428.56 1024.82,1428.71 1025.9,1428.86 1026.99,1429 1028.07,1429.14 1029.15,1429.28 1030.24,1429.42 1031.32,1429.55 1032.41,1429.68 1033.49,1429.8 1034.58,1429.92 1035.66,1430.04 1036.74,1430.16 1037.83,1430.27 1038.91,1430.39 1040,1430.5 1041.08,1430.6 1042.16,1430.71 1043.25,1430.81 1044.33,1430.91 1045.42,1431 1046.5,1431.1 1047.58,1431.19 1048.67,1431.28 1049.75,1431.37 1050.84,1431.45 1051.92,1431.54 1053.01,1431.62 1054.09,1431.7 1055.17,1431.77 1056.26,1431.85 1057.34,1431.92 1058.43,1432 1059.51,1432.07 1060.59,1432.14 1061.68,1432.2 1062.76,1432.27 1063.85,1432.33 1064.93,1432.4 1066.01,1432.46 1067.1,1432.52 1068.18,1432.57 1069.27,1432.63 1070.35,1432.69 1071.44,1432.74 1072.52,1432.79 1073.6,1432.84 1074.69,1432.89 1075.77,1432.94 1076.86,1432.99 1077.94,1433.04 1079.02,1433.08 1080.11,1433.13 1081.19,1433.17 1082.28,1433.21 1083.36,1433.25 1084.44,1433.29 1085.53,1433.33 1086.61,1433.37 1087.7,1433.41 1088.78,1433.45 1089.87,1433.48 1090.95,1433.52 1092.03,1433.55 1093.12,1433.58 1094.2,1433.62 1095.29,1433.65 1096.37,1433.68 1097.45,1433.71 1098.54,1433.74 1099.62,1433.77 1100.71,1433.79 1101.79,1433.82 1102.87,1433.85 1103.96,1433.87 1105.04,1433.9 1106.13,1433.92 1107.21,1433.95 1108.3,1433.97 1109.38,1433.99 1110.46,1434.01 1111.55,1434.04 1112.63,1434.06 1113.72,1434.08 1114.8,1434.1 1115.88,1434.12 1116.97,1434.14 1118.05,1434.16 1119.14,1434.17 1120.22,1434.19 1121.3,1434.21 1122.39,1434.23 1123.47,1434.24 1124.56,1434.26 1125.64,1434.27 1126.73,1434.29 1127.81,1434.31 1128.89,1434.32 1129.98,1434.33 1131.06,1434.35 1132.15,1434.36 1133.23,1434.37 1134.31,1434.39 1135.4,1434.4" fill="none" stroke="#0a1ed0" stroke-width="3.6" stroke-linejoin="round"/>
<line x1="162" y1="1435" x2="202" y2="1435" stroke="#000" stroke-width="4.2" stroke-linecap="round"/>
<line x1="182" y1="1435" x2="182" y2="1453" stroke="#000" stroke-width="4.2" stroke-linecap="round"/>
<path d="M232.33,1441V1435H1281.83V1441" stroke="#000" stroke-width="4.2" fill="none" stroke-linecap="round" stroke-linejoin="round"/>
<line x1="232.33" y1="1435" x2="232.33" y2="1441" stroke="#000" stroke-width="4.2" stroke-linecap="round"/>
<line x1="280.83" y1="1435" x2="280.83" y2="1441" stroke="#000" stroke-width="4.2" stroke-linecap="round"/>
<line x1="320.46" y1="1435" x2="320.46" y2="1441" stroke="#000" stroke-width="4.2" stroke-linecap="round"/>
<line x1="353.97" y1="1435" x2="353.97" y2="1441" stroke="#000" stroke-width="4.2" stroke-linecap="round"/>
<line x1="383" y1="1435" x2="383" y2="1441" stroke="#000" stroke-width="4.2" stroke-linecap="round"/>
<line x1="408.6" y1="1435" x2="408.6" y2="1441" stroke="#000" stroke-width="4.2" stroke-linecap="round"/>
<line x1="431.5" y1="1435" x2="431.5" y2="1450" stroke="#000" stroke-width="4.2" stroke-linecap="round"/>
<line x1="582.17" y1="1435" x2="582.17" y2="1441" stroke="#000" stroke-width="4.2" stroke-linecap="round"/>
<line x1="670.3" y1="1435" x2="670.3" y2="1441" stroke="#000" stroke-width="4.2" stroke-linecap="round"/>
<line x1="732.83" y1="1435" x2="732.83" y2="1441" stroke="#000" stroke-width="4.2" stroke-linecap="round"/>
<line x1="781.33" y1="1435" x2="781.33" y2="1441" stroke="#000" stroke-width="4.2" stroke-linecap="round"/>
<line x1="820.96" y1="1435" x2="820.96" y2="1441" stroke="#000" stroke-width="4.2" stroke-linecap="round"/>
<line x1="854.47" y1="1435" x2="854.47" y2="1441" stroke="#000" stroke-width="4.2" stroke-linecap="round"/>
<line x1="883.5" y1="1435" x2="883.5" y2="1441" stroke="#000" stroke-width="4.2" stroke-linecap="round"/>
<line x1="909.1" y1="1435" x2="909.1" y2="1441" stroke="#000" stroke-width="4.2" stroke-linecap="round"/>
<line x1="932" y1="1435" x2="932" y2="1450" stroke="#000" stroke-width="4.2" stroke-linecap="round"/>
<line x1="1082.67" y1="1435" x2="1082.67" y2="1441" stroke="#000" stroke-width="4.2" stroke-linecap="round"/>
<line x1="1170.8" y1="1435" x2="1170.8" y2="1441" stroke="#000" stroke-width="4.2" stroke-linecap="round"/>
<line x1="1233.33" y1="1435" x2="1233.33" y2="1441" stroke="#000" stroke-width="4.2" stroke-linecap="round"/>
<line x1="1281.83" y1="1435" x2="1281.83" y2="1441" stroke="#000" stroke-width="4.2" stroke-linecap="round"/>
<text x="182" y="1492" font-size="32" text-anchor="middle" >0</text>
<text x="431.5" y="1492" font-size="32" text-anchor="middle" >1</text>
<text x="932" y="1492" font-size="32" text-anchor="middle" >10</text>
<text transform="translate(756,1527) scale(1.037,1)" font-size="30" text-anchor="middle" >Drug concentration (µM)</text>
<text transform="translate(25.5,1274) rotate(-90) scale(1.035,1)" font-size="30" text-anchor="middle">Motility (% of control)</text>
<path d="M182,1212.31L194,1224.31L182,1236.31L170,1224.31Z" fill="#ff0000"/>
<path d="M329.34,1254.97V1320.98M322.34,1254.97H336.34M322.34,1320.98H336.34" stroke="#ee0000" stroke-width="3.2" fill="none"/>
<path d="M329.34,1275.98L341.34,1287.98L329.34,1299.98L317.34,1287.98Z" fill="#ff0000"/>
<path d="M480,1324.17V1336.95M473,1324.17H487M473,1336.95H487" stroke="#ee0000" stroke-width="3.2" fill="none"/>
<path d="M480,1318.56L492,1330.56L480,1342.56L468,1330.56Z" fill="#ff0000"/>
<path d="M630.67,1259.23V1297.56M623.67,1259.23H637.67M623.67,1297.56H637.67" stroke="#ee0000" stroke-width="3.2" fill="none"/>
<path d="M630.67,1266.39L642.67,1278.39L630.67,1290.39L618.67,1278.39Z" fill="#ff0000"/>
<path d="M781.33,1211.75V1284.99M774.33,1211.75H788.33M774.33,1284.99H788.33" stroke="#ee0000" stroke-width="3.2" fill="none"/>
<path d="M781.33,1236.37L793.33,1248.37L781.33,1260.37L769.33,1248.37Z" fill="#ff0000"/>
<path d="M932,1396.15V1422.98M925,1396.15H939M925,1422.98H939" stroke="#ee0000" stroke-width="3.2" fill="none"/>
<path d="M932,1397.56L944,1409.56L932,1421.56L920,1409.56Z" fill="#ff0000"/>
<path d="M182,1217.28V1231.34M175,1217.28H189M175,1231.34H189" stroke="#0a1ed0" stroke-width="3.2" fill="none"/>
<path d="M182,1215.81L192.5,1232.81L171.5,1232.81Z" fill="#0a1ee0"/>
<path d="M329.34,1186.83V1237.94M322.34,1186.83H336.34M322.34,1237.94H336.34" stroke="#0a1ed0" stroke-width="3.2" fill="none"/>
<path d="M329.34,1203.38L340.34,1221.38L318.34,1221.38Z" fill="#0a1ee0"/>
<path d="M480,1194.29V1243.26M473,1194.29H487M473,1243.26H487" stroke="#0a1ed0" stroke-width="3.2" fill="none"/>
<path d="M480,1209.77L491,1227.77L469,1227.77Z" fill="#0a1ee0"/>
<path d="M630.67,1143.18V1194.29M623.67,1143.18H637.67M623.67,1194.29H637.67" stroke="#0a1ed0" stroke-width="3.2" fill="none"/>
<path d="M630.67,1159.73L641.67,1177.73L619.67,1177.73Z" fill="#0a1ee0"/>
<path d="M781.33,1217.07V1288.19M774.33,1217.07H788.33M774.33,1288.19H788.33" stroke="#0a1ed0" stroke-width="3.2" fill="none"/>
<path d="M781.33,1243.63L792.33,1261.63L770.33,1261.63Z" fill="#0a1ee0"/>
<path d="M932,1364.63V1419.99M925,1364.63H939M925,1419.99H939" stroke="#0a1ed0" stroke-width="3.2" fill="none"/>
<path d="M932,1383.31L943,1401.31L921,1401.31Z" fill="#0a1ee0"/>
<line x1="998.5" y1="1123.4" x2="1050" y2="1123.4" stroke="#ee0000" stroke-width="4" stroke-linecap="butt"/>
<path d="M1024.2,1110.4L1035.7,1123.4L1024.2,1136.4L1012.7,1123.4Z" fill="#ff0000"/>
<line x1="998.5" y1="1158.8" x2="1050" y2="1158.8" stroke="#0a1ed0" stroke-width="4" stroke-linecap="butt"/>
<path d="M1024.2,1149.75L1035.2,1165.25L1013.2,1165.25Z" fill="#0a1ee0"/>
<text x="1061" y="1133" font-size="28">Sertraline (IC<tspan font-size="19" dy="6" fill="#777">50</tspan><tspan dy="-6"> = 8.43 µM)</tspan></text>
<text x="1061" y="1168.5" font-size="28">Paroxetine (IC<tspan font-size="19" dy="6" fill="#777">50</tspan><tspan dy="-6"> = 7.54 µM)</tspan></text>
</svg>
</body></html>
